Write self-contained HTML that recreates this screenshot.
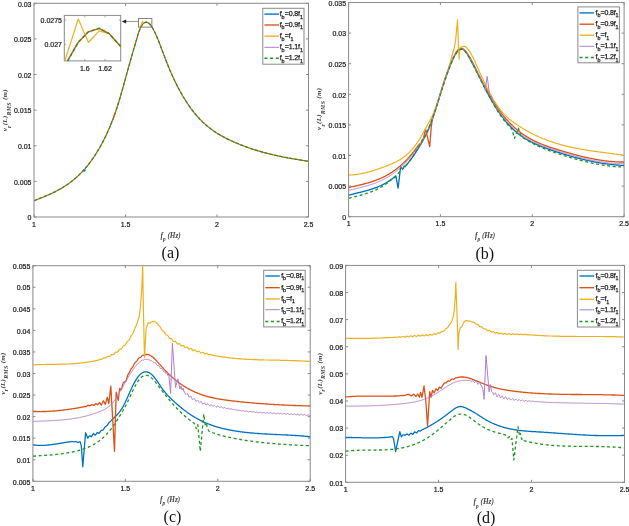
<!DOCTYPE html>
<html><head><meta charset="utf-8"><style>
html,body{margin:0;padding:0;background:#fff;}
svg{display:block;filter:blur(0.35px);}
.tk{font-family:"Liberation Sans",sans-serif;font-size:7px;fill:#1c1c1c;stroke:#1c1c1c;stroke-width:0.22px;}
.lg{font-family:"Liberation Sans",sans-serif;font-size:7px;fill:#1c1c1c;stroke:#1c1c1c;stroke-width:0.25px;letter-spacing:-0.12px;}
.sb{font-size:5.4px;}
.li{letter-spacing:-0.15px;}
.ax{font-family:"Liberation Serif",serif;font-size:7.3px;font-style:italic;font-weight:bold;fill:#444;}
.axs{font-size:5.3px;}
.ay{font-size:7.0px;letter-spacing:0.3px;} .ay .axs{font-size:5.9px;}
.pl{font-family:"Liberation Serif",serif;font-size:16px;fill:#111;}
</style></head><body>
<svg width="629" height="526" viewBox="0 0 629 526">
<defs>
<clipPath id="ca"><rect x="34" y="3.3" width="274.5" height="213.7"/></clipPath>
<clipPath id="cb"><rect x="348.6" y="2.5" width="275.5" height="214.2"/></clipPath>
<clipPath id="cc"><rect x="32.9" y="265.7" width="277.3" height="215.6"/></clipPath>
<clipPath id="cd"><rect x="345.6" y="265.4" width="278.9" height="216.9"/></clipPath>
</defs>
<rect x="34.0" y="3.3" width="274.50" height="213.70" fill="none" stroke="#8a8a8a" stroke-width="1"/>
<path d="M34.00 217V214.5M34.00 3.3V5.8" stroke="#8a8a8a" stroke-width="1"/>
<text x="34.00" y="226.70" text-anchor="middle" class="tk">1</text>
<path d="M125.50 217V214.5M125.50 3.3V5.8" stroke="#8a8a8a" stroke-width="1"/>
<text x="125.50" y="226.70" text-anchor="middle" class="tk">1.5</text>
<path d="M217.00 217V214.5M217.00 3.3V5.8" stroke="#8a8a8a" stroke-width="1"/>
<text x="217.00" y="226.70" text-anchor="middle" class="tk">2</text>
<path d="M308.50 217V214.5M308.50 3.3V5.8" stroke="#8a8a8a" stroke-width="1"/>
<text x="308.50" y="226.70" text-anchor="middle" class="tk">2.5</text>
<path d="M34.0 217.00H36.5M308.5 217.00H306.0" stroke="#8a8a8a" stroke-width="1"/>
<text x="31.50" y="220.20" text-anchor="end" class="tk">0</text>
<path d="M34.0 181.38H36.5M308.5 181.38H306.0" stroke="#8a8a8a" stroke-width="1"/>
<text x="31.50" y="184.58" text-anchor="end" class="tk">0.005</text>
<path d="M34.0 145.77H36.5M308.5 145.77H306.0" stroke="#8a8a8a" stroke-width="1"/>
<text x="31.50" y="148.97" text-anchor="end" class="tk">0.01</text>
<path d="M34.0 110.15H36.5M308.5 110.15H306.0" stroke="#8a8a8a" stroke-width="1"/>
<text x="31.50" y="113.35" text-anchor="end" class="tk">0.015</text>
<path d="M34.0 74.53H36.5M308.5 74.53H306.0" stroke="#8a8a8a" stroke-width="1"/>
<text x="31.50" y="77.73" text-anchor="end" class="tk">0.02</text>
<path d="M34.0 38.92H36.5M308.5 38.92H306.0" stroke="#8a8a8a" stroke-width="1"/>
<text x="31.50" y="42.12" text-anchor="end" class="tk">0.025</text>
<path d="M34.0 3.30H36.5M308.5 3.30H306.0" stroke="#8a8a8a" stroke-width="1"/>
<text x="31.50" y="6.50" text-anchor="end" class="tk">0.03</text>
<g clip-path="url(#ca)">
<polyline points="34.3,200.6 34.8,200.4 35.3,200.2 35.8,200.0 36.3,199.8 36.8,199.6 37.3,199.4 37.8,199.2 38.3,199.0 38.8,198.8 39.3,198.6 39.8,198.4 40.3,198.2 40.8,198.0 41.3,197.8 41.8,197.6 42.3,197.4 42.8,197.2 43.3,197.0 43.8,196.8 44.3,196.6 44.8,196.4 45.3,196.2 45.8,196.0 46.3,195.8 46.8,195.6 47.3,195.3 47.8,195.1 48.3,194.9 48.8,194.7 49.3,194.5 49.8,194.2 50.3,194.0 50.8,193.8 51.3,193.6 51.8,193.3 52.3,193.1 52.8,192.8 53.3,192.6 53.8,192.4 54.3,192.1 54.8,191.9 55.3,191.6 55.8,191.4 56.3,191.1 56.8,190.8 57.3,190.6 57.8,190.3 58.3,190.0 58.8,189.8 59.3,189.5 59.8,189.2 60.3,188.9 60.8,188.6 61.3,188.4 61.8,188.1 62.3,187.8 62.8,187.5 63.3,187.1 63.8,186.8 64.3,186.5 64.8,186.2 65.3,185.9 65.8,185.5 66.3,185.2 66.8,184.9 67.3,184.5 67.8,184.2 68.3,183.8 68.8,183.5 69.3,183.1 69.8,182.7 70.3,182.4 70.8,182.0 71.3,181.6 71.8,181.2 72.3,180.8 72.8,180.4 73.3,180.0 73.8,179.6 74.3,179.2 74.8,178.7 75.3,178.3 75.8,177.9 76.3,177.4 76.8,177.0 77.3,176.5 77.8,176.1 78.3,175.6 78.8,175.1 79.3,174.6 79.8,174.2 80.3,173.7 80.8,173.2 81.3,172.6 81.8,172.1 82.3,171.6 82.8,171.1 83.3,170.5 83.8,170.0 84.3,169.4 84.8,168.8 85.3,168.3 85.8,167.7 86.3,167.1 86.8,166.5 87.3,165.9 87.8,165.3 88.3,164.6 88.8,164.0 89.3,163.3 89.8,162.7 90.3,162.0 90.8,161.3 91.3,160.7 91.8,160.0 92.3,159.2 92.8,158.5 93.3,157.8 93.8,157.1 94.3,156.3 94.8,155.6 95.3,154.8 95.8,154.0 96.3,153.2 96.8,152.4 97.3,151.6 97.8,150.8 98.3,149.9 98.8,149.1 99.3,148.2 99.8,147.4 100.3,146.5 100.8,145.6 101.3,144.7 101.8,143.7 102.3,142.8 102.8,141.9 103.3,140.9 103.8,139.9 104.3,138.9 104.8,137.9 105.3,136.9 105.8,135.9 106.3,134.8 106.8,133.8 107.3,132.7 107.8,131.6 108.3,130.5 108.8,129.3 109.3,128.2 109.8,127.0 110.3,125.8 110.8,124.6 111.3,123.3 111.8,122.1 112.3,120.8 112.8,119.5 113.3,118.2 113.8,116.8 114.3,115.4 114.8,114.0 115.3,112.6 115.8,111.2 116.3,109.7 116.8,108.2 117.3,106.7 117.8,105.1 118.3,103.5 118.8,101.9 119.3,100.3 119.8,98.6 120.3,97.0 120.8,95.2 121.3,93.5 121.8,91.7 122.3,90.0 122.8,88.2 123.3,86.4 123.8,84.6 124.3,82.7 124.8,80.9 125.3,79.1 125.8,77.2 126.3,75.4 126.8,73.6 127.3,71.8 127.8,69.9 128.3,68.1 128.8,66.3 129.3,64.6 129.8,62.8 130.3,61.0 130.8,59.3 131.3,57.6 131.8,55.8 132.3,54.1 132.8,52.4 133.3,50.7 133.8,48.9 134.3,47.2 134.8,45.5 135.3,43.8 135.8,42.0 136.3,40.3 136.8,38.6 137.3,36.9 137.8,35.2 138.3,33.6 138.8,32.1 139.3,30.7 139.8,29.4 140.3,28.3 140.8,27.2 141.3,26.3 141.8,25.4 142.3,24.7 142.8,24.0 143.3,23.5 143.8,23.1 144.3,22.7 144.8,22.5 145.3,22.3 145.8,22.2 146.3,22.2 146.8,22.3 147.3,22.4 147.8,22.6 148.3,22.9 148.8,23.3 149.3,23.7 149.8,24.2 150.3,24.8 150.8,25.4 151.3,26.1 151.8,26.8 152.3,27.6 152.8,28.4 153.3,29.3 153.8,30.3 154.3,31.2 154.8,32.3 155.3,33.3 155.8,34.4 156.3,35.5 156.8,36.7 157.3,37.9 157.8,39.1 158.3,40.3 158.8,41.6 159.3,42.8 159.8,44.1 160.3,45.4 160.8,46.7 161.3,48.1 161.8,49.4 162.3,50.7 162.8,52.1 163.3,53.4 163.8,54.7 164.3,56.1 164.8,57.4 165.3,58.7 165.8,60.0 166.3,61.3 166.8,62.6 167.3,63.8 167.8,65.1 168.3,66.3 168.8,67.5 169.3,68.7 169.8,69.9 170.3,71.0 170.8,72.2 171.3,73.3 171.8,74.5 172.3,75.6 172.8,76.7 173.3,77.8 173.8,78.8 174.3,79.9 174.8,81.0 175.3,82.0 175.8,83.0 176.3,84.0 176.8,85.0 177.3,86.0 177.8,87.0 178.3,87.9 178.8,88.9 179.3,89.8 179.8,90.7 180.3,91.7 180.8,92.6 181.3,93.4 181.8,94.3 182.3,95.2 182.8,96.0 183.3,96.9 183.8,97.7 184.3,98.5 184.8,99.3 185.3,100.1 185.8,100.9 186.3,101.7 186.8,102.5 187.3,103.2 187.8,104.0 188.3,104.7 188.8,105.4 189.3,106.2 189.8,106.9 190.3,107.6 190.8,108.3 191.3,108.9 191.8,109.6 192.3,110.3 192.8,110.9 193.3,111.5 193.8,112.2 194.3,112.8 194.8,113.4 195.3,114.0 195.8,114.6 196.3,115.2 196.8,115.8 197.3,116.3 197.8,116.9 198.3,117.5 198.8,118.0 199.3,118.5 199.8,119.1 200.3,119.6 200.8,120.1 201.3,120.6 201.8,121.1 202.3,121.6 202.8,122.1 203.3,122.5 203.8,123.0 204.3,123.5 204.8,123.9 205.3,124.4 205.8,124.8 206.3,125.3 206.8,125.7 207.3,126.1 207.8,126.5 208.3,126.9 208.8,127.3 209.3,127.7 209.8,128.1 210.3,128.5 210.8,128.9 211.3,129.3 211.8,129.6 212.3,130.0 212.8,130.4 213.3,130.7 213.8,131.1 214.3,131.4 214.8,131.7 215.3,132.1 215.8,132.4 216.3,132.7 216.8,133.0 217.3,133.4 217.8,133.7 218.3,134.0 218.8,134.3 219.3,134.6 219.8,134.9 220.3,135.2 220.8,135.4 221.3,135.7 221.8,136.0 222.3,136.3 222.8,136.6 223.3,136.8 223.8,137.1 224.3,137.4 224.8,137.6 225.3,137.9 225.8,138.1 226.3,138.4 226.8,138.6 227.3,138.9 227.8,139.1 228.3,139.4 228.8,139.6 229.3,139.8 229.8,140.1 230.3,140.3 230.8,140.6 231.3,140.8 231.8,141.0 232.3,141.2 232.8,141.5 233.3,141.7 233.8,141.9 234.3,142.1 234.8,142.4 235.3,142.6 235.8,142.8 236.3,143.0 236.8,143.2 237.3,143.4 237.8,143.6 238.3,143.8 238.8,144.0 239.3,144.3 239.8,144.5 240.3,144.7 240.8,144.9 241.3,145.1 241.8,145.2 242.3,145.4 242.8,145.6 243.3,145.8 243.8,146.0 244.3,146.2 244.8,146.4 245.3,146.6 245.8,146.8 246.3,146.9 246.8,147.1 247.3,147.3 247.8,147.5 248.3,147.7 248.8,147.8 249.3,148.0 249.8,148.2 250.3,148.4 250.8,148.5 251.3,148.7 251.8,148.9 252.3,149.0 252.8,149.2 253.3,149.3 253.8,149.5 254.3,149.7 254.8,149.8 255.3,150.0 255.8,150.1 256.3,150.3 256.8,150.4 257.3,150.6 257.8,150.8 258.3,150.9 258.8,151.0 259.3,151.2 259.8,151.3 260.3,151.5 260.8,151.6 261.3,151.8 261.8,151.9 262.3,152.1 262.8,152.2 263.3,152.3 263.8,152.5 264.3,152.6 264.8,152.7 265.3,152.9 265.8,153.0 266.3,153.1 266.8,153.3 267.3,153.4 267.8,153.5 268.3,153.6 268.8,153.8 269.3,153.9 269.8,154.0 270.3,154.1 270.8,154.3 271.3,154.4 271.8,154.5 272.3,154.6 272.8,154.7 273.3,154.9 273.8,155.0 274.3,155.1 274.8,155.2 275.3,155.3 275.8,155.4 276.3,155.5 276.8,155.6 277.3,155.8 277.8,155.9 278.3,156.0 278.8,156.1 279.3,156.2 279.8,156.3 280.3,156.4 280.8,156.5 281.3,156.6 281.8,156.7 282.3,156.8 282.8,156.9 283.3,157.0 283.8,157.1 284.3,157.2 284.8,157.3 285.3,157.4 285.8,157.5 286.3,157.6 286.8,157.7 287.3,157.8 287.8,157.9 288.3,158.0 288.8,158.1 289.3,158.1 289.8,158.2 290.3,158.3 290.8,158.4 291.3,158.5 291.8,158.6 292.3,158.7 292.8,158.8 293.3,158.9 293.8,158.9 294.3,159.0 294.8,159.1 295.3,159.2 295.8,159.3 296.3,159.4 296.8,159.4 297.3,159.5 297.8,159.6 298.3,159.7 298.8,159.8 299.3,159.9 299.8,159.9 300.3,160.0 300.8,160.1 301.3,160.2 301.8,160.3 302.3,160.3 302.8,160.4 303.3,160.5 303.8,160.6 304.3,160.6 304.8,160.7 305.3,160.8 305.8,160.9 306.3,161.0 306.8,161.0 307.3,161.1 307.8,161.2 308.3,161.3 308.5,161.3" fill="none" stroke="#D95319" stroke-width="1.2" stroke-linejoin="round"/>
<polyline points="34.3,200.6 34.8,200.4 35.3,200.2 35.8,200.0 36.3,199.8 36.8,199.6 37.3,199.4 37.8,199.2 38.3,199.0 38.8,198.8 39.3,198.6 39.8,198.4 40.3,198.2 40.8,198.0 41.3,197.8 41.8,197.6 42.3,197.4 42.8,197.2 43.3,197.0 43.8,196.8 44.3,196.6 44.8,196.4 45.3,196.2 45.8,196.0 46.3,195.8 46.8,195.6 47.3,195.3 47.8,195.1 48.3,194.9 48.8,194.7 49.3,194.5 49.8,194.2 50.3,194.0 50.8,193.8 51.3,193.6 51.8,193.3 52.3,193.1 52.8,192.8 53.3,192.6 53.8,192.4 54.3,192.1 54.8,191.9 55.3,191.6 55.8,191.4 56.3,191.1 56.8,190.8 57.3,190.6 57.8,190.3 58.3,190.0 58.8,189.8 59.3,189.5 59.8,189.2 60.3,188.9 60.8,188.6 61.3,188.4 61.8,188.1 62.3,187.8 62.8,187.5 63.3,187.1 63.8,186.8 64.3,186.5 64.8,186.2 65.3,185.9 65.8,185.5 66.3,185.2 66.8,184.9 67.3,184.5 67.8,184.2 68.3,183.8 68.8,183.5 69.3,183.1 69.8,182.7 70.3,182.4 70.8,182.0 71.3,181.6 71.8,181.2 72.3,180.8 72.8,180.4 73.3,180.0 73.8,179.6 74.3,179.2 74.8,178.7 75.3,178.3 75.8,177.9 76.3,177.4 76.8,177.0 77.3,176.5 77.8,176.1 78.3,175.6 78.8,175.1 79.3,174.6 79.8,174.2 80.3,173.7 80.8,173.2 81.3,172.6 81.8,172.1 82.3,171.6 82.8,171.1 83.3,170.5 83.8,170.0 84.3,169.4 84.8,168.8 85.3,168.3 85.8,167.7 86.3,167.1 86.8,166.5 87.3,165.9 87.8,165.3 88.3,164.6 88.8,164.0 89.3,163.3 89.8,162.7 90.3,162.0 90.8,161.3 91.3,160.7 91.8,160.0 92.3,159.2 92.8,158.5 93.3,157.8 93.8,157.1 94.3,156.3 94.8,155.6 95.3,154.8 95.8,154.0 96.3,153.2 96.8,152.4 97.3,151.6 97.8,150.8 98.3,149.9 98.8,149.1 99.3,148.2 99.8,147.4 100.3,146.5 100.8,145.6 101.3,144.7 101.8,143.7 102.3,142.8 102.8,141.9 103.3,140.9 103.8,139.9 104.3,138.9 104.8,137.9 105.3,136.9 105.8,135.9 106.3,134.8 106.8,133.8 107.3,132.7 107.8,131.6 108.3,130.5 108.8,129.3 109.3,128.2 109.8,127.0 110.3,125.8 110.8,124.6 111.3,123.3 111.8,122.1 112.3,120.8 112.8,119.5 113.3,118.2 113.8,116.8 114.3,115.4 114.8,114.0 115.3,112.6 115.8,111.2 116.3,109.7 116.8,108.2 117.3,106.7 117.8,105.1 118.3,103.5 118.8,101.9 119.3,100.3 119.8,98.6 120.3,97.0 120.8,95.2 121.3,93.5 121.8,91.7 122.3,90.0 122.8,88.2 123.3,86.4 123.8,84.6 124.3,82.7 124.8,80.9 125.3,79.1 125.8,77.2 126.3,75.4 126.8,73.6 127.3,71.8 127.8,69.9 128.3,68.1 128.8,66.3 129.3,64.6 129.8,62.8 130.3,61.0 130.8,59.3 131.3,57.6 131.8,55.8 132.3,54.1 132.8,52.4 133.3,50.7 133.8,48.9 134.3,47.2 134.8,45.5 135.3,43.8 135.8,42.0 136.3,40.3 136.8,38.6 137.3,36.9 137.8,35.2 138.3,33.6 138.8,32.1 139.3,30.7 139.8,29.4 140.3,28.3 140.8,27.2 141.3,26.3 141.8,25.4 142.3,24.7 142.8,24.0 143.3,23.5 143.8,23.1 144.3,22.7 144.8,22.5 145.3,22.3 145.8,22.2 146.3,22.2 146.8,22.3 147.3,22.4 147.8,22.6 148.3,22.9 148.8,23.3 149.3,23.7 149.8,24.2 150.3,24.8 150.8,25.4 151.3,26.1 151.8,26.8 152.3,27.6 152.8,28.4 153.3,29.3 153.8,30.3 154.3,31.2 154.8,32.3 155.3,33.3 155.8,34.4 156.3,35.5 156.8,36.7 157.3,37.9 157.8,39.1 158.3,40.3 158.8,41.6 159.3,42.8 159.8,44.1 160.3,45.4 160.8,46.7 161.3,48.1 161.8,49.4 162.3,50.7 162.8,52.1 163.3,53.4 163.8,54.7 164.3,56.1 164.8,57.4 165.3,58.7 165.8,60.0 166.3,61.3 166.8,62.6 167.3,63.8 167.8,65.1 168.3,66.3 168.8,67.5 169.3,68.7 169.8,69.9 170.3,71.0 170.8,72.2 171.3,73.3 171.8,74.5 172.3,75.6 172.8,76.7 173.3,77.8 173.8,78.8 174.3,79.9 174.8,81.0 175.3,82.0 175.8,83.0 176.3,84.0 176.8,85.0 177.3,86.0 177.8,87.0 178.3,87.9 178.8,88.9 179.3,89.8 179.8,90.7 180.3,91.7 180.8,92.6 181.3,93.4 181.8,94.3 182.3,95.2 182.8,96.0 183.3,96.9 183.8,97.7 184.3,98.5 184.8,99.3 185.3,100.1 185.8,100.9 186.3,101.7 186.8,102.5 187.3,103.2 187.8,104.0 188.3,104.7 188.8,105.4 189.3,106.2 189.8,106.9 190.3,107.6 190.8,108.3 191.3,108.9 191.8,109.6 192.3,110.3 192.8,110.9 193.3,111.5 193.8,112.2 194.3,112.8 194.8,113.4 195.3,114.0 195.8,114.6 196.3,115.2 196.8,115.8 197.3,116.3 197.8,116.9 198.3,117.5 198.8,118.0 199.3,118.5 199.8,119.1 200.3,119.6 200.8,120.1 201.3,120.6 201.8,121.1 202.3,121.6 202.8,122.1 203.3,122.5 203.8,123.0 204.3,123.5 204.8,123.9 205.3,124.4 205.8,124.8 206.3,125.3 206.8,125.7 207.3,126.1 207.8,126.5 208.3,126.9 208.8,127.3 209.3,127.7 209.8,128.1 210.3,128.5 210.8,128.9 211.3,129.3 211.8,129.6 212.3,130.0 212.8,130.4 213.3,130.7 213.8,131.1 214.3,131.4 214.8,131.7 215.3,132.1 215.8,132.4 216.3,132.7 216.8,133.0 217.3,133.4 217.8,133.7 218.3,134.0 218.8,134.3 219.3,134.6 219.8,134.9 220.3,135.2 220.8,135.4 221.3,135.7 221.8,136.0 222.3,136.3 222.8,136.6 223.3,136.8 223.8,137.1 224.3,137.4 224.8,137.6 225.3,137.9 225.8,138.1 226.3,138.4 226.8,138.6 227.3,138.9 227.8,139.1 228.3,139.4 228.8,139.6 229.3,139.8 229.8,140.1 230.3,140.3 230.8,140.6 231.3,140.8 231.8,141.0 232.3,141.2 232.8,141.5 233.3,141.7 233.8,141.9 234.3,142.1 234.8,142.4 235.3,142.6 235.8,142.8 236.3,143.0 236.8,143.2 237.3,143.4 237.8,143.6 238.3,143.8 238.8,144.0 239.3,144.3 239.8,144.5 240.3,144.7 240.8,144.9 241.3,145.1 241.8,145.2 242.3,145.4 242.8,145.6 243.3,145.8 243.8,146.0 244.3,146.2 244.8,146.4 245.3,146.6 245.8,146.8 246.3,146.9 246.8,147.1 247.3,147.3 247.8,147.5 248.3,147.7 248.8,147.8 249.3,148.0 249.8,148.2 250.3,148.4 250.8,148.5 251.3,148.7 251.8,148.9 252.3,149.0 252.8,149.2 253.3,149.3 253.8,149.5 254.3,149.7 254.8,149.8 255.3,150.0 255.8,150.1 256.3,150.3 256.8,150.4 257.3,150.6 257.8,150.8 258.3,150.9 258.8,151.0 259.3,151.2 259.8,151.3 260.3,151.5 260.8,151.6 261.3,151.8 261.8,151.9 262.3,152.1 262.8,152.2 263.3,152.3 263.8,152.5 264.3,152.6 264.8,152.7 265.3,152.9 265.8,153.0 266.3,153.1 266.8,153.3 267.3,153.4 267.8,153.5 268.3,153.6 268.8,153.8 269.3,153.9 269.8,154.0 270.3,154.1 270.8,154.3 271.3,154.4 271.8,154.5 272.3,154.6 272.8,154.7 273.3,154.9 273.8,155.0 274.3,155.1 274.8,155.2 275.3,155.3 275.8,155.4 276.3,155.5 276.8,155.6 277.3,155.8 277.8,155.9 278.3,156.0 278.8,156.1 279.3,156.2 279.8,156.3 280.3,156.4 280.8,156.5 281.3,156.6 281.8,156.7 282.3,156.8 282.8,156.9 283.3,157.0 283.8,157.1 284.3,157.2 284.8,157.3 285.3,157.4 285.8,157.5 286.3,157.6 286.8,157.7 287.3,157.8 287.8,157.9 288.3,158.0 288.8,158.1 289.3,158.1 289.8,158.2 290.3,158.3 290.8,158.4 291.3,158.5 291.8,158.6 292.3,158.7 292.8,158.8 293.3,158.9 293.8,158.9 294.3,159.0 294.8,159.1 295.3,159.2 295.8,159.3 296.3,159.4 296.8,159.4 297.3,159.5 297.8,159.6 298.3,159.7 298.8,159.8 299.3,159.9 299.8,159.9 300.3,160.0 300.8,160.1 301.3,160.2 301.8,160.3 302.3,160.3 302.8,160.4 303.3,160.5 303.8,160.6 304.3,160.6 304.8,160.7 305.3,160.8 305.8,160.9 306.3,161.0 306.8,161.0 307.3,161.1 307.8,161.2 308.3,161.3 308.5,161.3" fill="none" stroke="#1E961E" stroke-width="1.2" stroke-linejoin="round" stroke-dasharray="3.2,1.9"/>
<polyline points="140.6,26.2 142.4,21.4 143.6,22.6" fill="none" stroke="#EDB120" stroke-width="1.1"/>
</g>
<rect x="138.5" y="18.6" width="13.4" height="8.5" fill="none" stroke="#666" stroke-width="0.8"/>
<line x1="138.5" y1="21.5" x2="124.5" y2="21.5" stroke="#555" stroke-width="0.6"/>
<polygon points="121.7,21.5 126.2,19.6 126.2,23.4" fill="#222"/>
<rect x="64.3" y="15.4" width="56.4" height="45.5" fill="#fff" stroke="#8a8a8a" stroke-width="1"/>
<polyline points="64.8,60.9 78.3,19 88.4,42.5 99.1,30.8 109.1,33.6 120.7,46.5" fill="none" stroke="#EDB120" stroke-width="1.2" stroke-linejoin="round"/>
<polyline points="67.6,60.9 78.3,42.2 88.4,31.8 99.1,28.3 109.1,33.6 120.7,46.5" fill="none" stroke="#D95319" stroke-width="1.4" stroke-linejoin="round"/>
<polyline points="67.6,60.9 78.3,42.2 88.4,31.8 99.1,28.3 109.1,33.6 120.7,46.5" fill="none" stroke="#1E961E" stroke-width="1.4" stroke-dasharray="3,2.6"/>
<path d="M84.8 60.9V59M105.1 60.9V59M84.8 15.4V17.3M105.1 15.4V17.3M64.3 20H66.2M64.3 44.3H66.2M120.7 20H118.8M120.7 44.3H118.8" stroke="#8a8a8a" stroke-width="0.8"/>
<path d="M82.6 170.4L84.6 170.9L85.6 169.6" fill="none" stroke="#0072BD" stroke-width="1.1"/>
<path d="M113.6 117.6L114.2 115.0L115.3 113.4" fill="none" stroke="#D95319" stroke-width="1.1"/>
<text x="62" y="22.6" text-anchor="end" class="tk">0.0275</text>
<text x="62" y="46.9" text-anchor="end" class="tk">0.027</text>
<text x="84.8" y="70.9" text-anchor="middle" class="tk">1.6</text>
<text x="105.1" y="70.9" text-anchor="middle" class="tk">1.62</text>
<rect x="262.8" y="8.3" width="41.20" height="55.90" fill="#fff" stroke="#8a8a8a" stroke-width="1"/>
<line x1="264.4" y1="14.1" x2="279.1" y2="14.1" stroke="#0072BD" stroke-width="1.35"/>
<text x="279.7" y="15.9" class="lg">f<tspan dy="2.6" class="sb">b</tspan><tspan dy="-2.6" dx="0.3">=0.8f</tspan><tspan dy="2.6" class="sb">1</tspan></text>
<line x1="264.4" y1="25" x2="279.1" y2="25" stroke="#D95319" stroke-width="1.35"/>
<text x="279.7" y="26.8" class="lg">f<tspan dy="2.6" class="sb">b</tspan><tspan dy="-2.6" dx="0.3">=0.9f</tspan><tspan dy="2.6" class="sb">1</tspan></text>
<line x1="264.4" y1="36.2" x2="279.1" y2="36.2" stroke="#EDB120" stroke-width="1.35"/>
<text x="279.7" y="38.0" class="lg">f<tspan dy="2.6" class="sb">b</tspan><tspan dy="-2.6" dx="0.3">=f</tspan><tspan dy="2.6" class="sb">1</tspan></text>
<line x1="264.4" y1="47.3" x2="279.1" y2="47.3" stroke="#B27DC9" stroke-width="1.0"/>
<text x="279.7" y="49.1" class="lg">f<tspan dy="2.6" class="sb">b</tspan><tspan dy="-2.6" dx="0.3">=1.1f</tspan><tspan dy="2.6" class="sb">1</tspan></text>
<line x1="264.4" y1="58.2" x2="279.1" y2="58.2" stroke="#1E961E" stroke-width="1.5" stroke-dasharray="3,2.7"/>
<text x="279.7" y="60.0" class="lg">f<tspan dy="2.6" class="sb">b</tspan><tspan dy="-2.6" dx="0.3">=1.2f</tspan><tspan dy="2.6" class="sb">1</tspan></text>
<rect x="348.6" y="2.5" width="275.50" height="214.20" fill="none" stroke="#8a8a8a" stroke-width="1"/>
<path d="M348.60 216.7V214.2M348.60 2.5V5.0" stroke="#8a8a8a" stroke-width="1"/>
<text x="348.60" y="226.40" text-anchor="middle" class="tk">1</text>
<path d="M440.43 216.7V214.2M440.43 2.5V5.0" stroke="#8a8a8a" stroke-width="1"/>
<text x="440.43" y="226.40" text-anchor="middle" class="tk">1.5</text>
<path d="M532.27 216.7V214.2M532.27 2.5V5.0" stroke="#8a8a8a" stroke-width="1"/>
<text x="532.27" y="226.40" text-anchor="middle" class="tk">2</text>
<path d="M624.10 216.7V214.2M624.10 2.5V5.0" stroke="#8a8a8a" stroke-width="1"/>
<text x="624.10" y="226.40" text-anchor="middle" class="tk">2.5</text>
<path d="M348.6 216.70H351.1M624.1 216.70H621.6" stroke="#8a8a8a" stroke-width="1"/>
<text x="346.10" y="219.90" text-anchor="end" class="tk">0</text>
<path d="M348.6 186.10H351.1M624.1 186.10H621.6" stroke="#8a8a8a" stroke-width="1"/>
<text x="346.10" y="189.30" text-anchor="end" class="tk">0.005</text>
<path d="M348.6 155.50H351.1M624.1 155.50H621.6" stroke="#8a8a8a" stroke-width="1"/>
<text x="346.10" y="158.70" text-anchor="end" class="tk">0.01</text>
<path d="M348.6 124.90H351.1M624.1 124.90H621.6" stroke="#8a8a8a" stroke-width="1"/>
<text x="346.10" y="128.10" text-anchor="end" class="tk">0.015</text>
<path d="M348.6 94.30H351.1M624.1 94.30H621.6" stroke="#8a8a8a" stroke-width="1"/>
<text x="346.10" y="97.50" text-anchor="end" class="tk">0.02</text>
<path d="M348.6 63.70H351.1M624.1 63.70H621.6" stroke="#8a8a8a" stroke-width="1"/>
<text x="346.10" y="66.90" text-anchor="end" class="tk">0.025</text>
<path d="M348.6 33.10H351.1M624.1 33.10H621.6" stroke="#8a8a8a" stroke-width="1"/>
<text x="346.10" y="36.30" text-anchor="end" class="tk">0.03</text>
<path d="M348.6 2.50H351.1M624.1 2.50H621.6" stroke="#8a8a8a" stroke-width="1"/>
<text x="346.10" y="5.70" text-anchor="end" class="tk">0.035</text>
<g clip-path="url(#cb)">
<polyline points="348.8,195.2 349.3,195.1 349.8,194.9 350.3,194.8 350.8,194.7 351.3,194.5 351.8,194.4 352.3,194.3 352.8,194.1 353.3,194.0 353.8,193.9 354.3,193.7 354.8,193.6 355.3,193.5 355.8,193.4 356.3,193.2 356.8,193.1 357.3,193.0 357.8,192.9 358.3,192.7 358.8,192.6 359.3,192.5 359.8,192.4 360.3,192.3 360.8,192.1 361.3,192.0 361.8,191.9 362.3,191.8 362.8,191.6 363.3,191.5 363.8,191.4 364.3,191.2 364.8,191.1 365.3,191.0 365.8,190.8 366.3,190.7 366.8,190.6 367.3,190.4 367.8,190.3 368.3,190.1 368.8,190.0 369.3,189.9 369.8,189.7 370.3,189.5 370.8,189.4 371.3,189.2 371.8,189.1 372.3,188.9 372.8,188.7 373.3,188.6 373.8,188.4 374.3,188.2 374.8,188.0 375.3,187.9 375.8,187.7 376.3,187.5 376.8,187.3 377.3,187.1 377.8,186.9 378.3,186.7 378.8,186.5 379.3,186.2 379.8,186.0 380.3,185.8 380.8,185.6 381.3,185.3 381.8,185.1 382.3,184.8 382.8,184.6 383.3,184.3 383.8,184.1 384.3,183.8 384.8,183.5 385.3,183.2 385.8,183.0 386.3,182.7 386.8,182.4 387.3,182.1 387.8,181.8 388.3,181.4 388.8,181.1 389.3,180.8 389.8,180.4 390.3,180.1 390.8,179.7 391.3,179.4 391.8,179.0 392.3,178.7 392.8,178.3 393.3,177.9 393.5,177.7 394.3,177.8 395.9,176.2 398.1,188.1 400.6,167.0 402.6,169.0 404.3,166.0 405.0,166.7 405.3,166.3 405.8,165.8 406.3,165.2 406.8,164.6 407.3,164.0 407.8,163.4 408.3,162.7 408.8,162.1 409.3,161.5 409.8,160.8 410.3,160.1 410.8,159.5 411.3,158.8 411.8,158.1 412.3,157.4 412.8,156.7 413.3,156.0 413.8,155.3 414.3,154.5 414.8,153.8 415.3,153.1 415.8,152.3 416.3,151.5 416.8,150.7 417.3,150.0 417.8,149.2 418.3,148.4 418.8,147.5 419.3,146.7 419.8,145.9 420.3,145.0 420.8,144.2 421.3,143.3 421.8,142.4 422.3,141.6 422.8,140.7 423.3,139.8 423.8,138.8 424.3,137.9 424.8,137.0 425.3,136.0 425.8,135.1 426.3,134.1 426.8,133.1 427.3,132.0 427.8,130.9 428.3,129.9 428.8,128.7 429.3,127.5 429.8,126.3 430.3,125.0 430.8,123.7 431.3,122.4 431.8,121.0 432.3,119.5 432.8,118.1 433.3,116.6 433.8,115.1 434.3,113.5 434.8,111.9 435.3,110.4 435.8,108.7 436.3,107.1 436.8,105.5 437.3,103.9 437.8,102.2 438.3,100.6 438.8,99.0 439.3,97.4 439.8,95.7 440.3,94.1 440.8,92.6 441.3,91.0 441.8,89.4 442.3,87.9 442.8,86.4 443.3,84.9 443.8,83.4 444.3,81.9 444.8,80.4 445.3,79.0 445.8,77.6 446.3,76.2 446.8,74.7 447.3,73.4 447.8,72.0 448.3,70.6 448.8,69.3 449.3,67.9 449.8,66.6 450.3,65.3 450.8,64.1 451.3,62.9 451.8,61.7 452.3,60.5 452.8,59.4 453.3,58.3 453.8,57.2 454.3,56.3 454.8,55.3 455.3,54.4 455.8,53.6 456.3,52.8 456.8,52.1 457.3,51.4 457.8,50.9 458.3,50.3 458.8,49.9 459.3,49.5 459.8,49.2 460.3,49.0 460.8,48.9 461.3,48.9 461.8,48.9 462.3,49.1 462.8,49.3 463.3,49.6 463.8,49.9 464.3,50.4 464.8,50.9 465.3,51.4 465.8,52.0 466.3,52.7 466.8,53.4 467.3,54.2 467.8,55.0 468.3,55.8 468.8,56.7 469.3,57.6 469.8,58.5 470.3,59.4 470.8,60.3 471.3,61.3 471.8,62.2 472.3,63.2 472.8,64.1 473.3,65.1 473.8,66.0 474.3,67.0 474.8,67.9 475.3,68.8 475.8,69.8 476.3,70.7 476.8,71.7 477.3,72.7 477.8,73.6 478.3,74.6 478.8,75.6 479.3,76.6 479.8,77.6 480.3,78.6 480.8,79.7 481.3,80.7 481.8,81.7 482.3,82.7 482.8,83.7 483.3,84.7 483.8,85.7 484.3,86.7 484.8,87.7 485.3,88.7 485.8,89.7 486.3,90.7 486.8,91.6 487.3,92.6 487.8,93.5 488.3,94.5 488.8,95.4 489.3,96.3 489.8,97.2 490.3,98.1 490.8,99.0 491.3,99.8 491.8,100.7 492.3,101.6 492.8,102.4 493.3,103.2 493.8,104.1 494.3,104.9 494.8,105.7 495.3,106.5 495.8,107.3 496.3,108.1 496.8,108.9 497.3,109.6 497.8,110.4 498.3,111.1 498.8,111.9 499.3,112.6 499.8,113.3 500.3,114.0 500.8,114.7 501.3,115.4 501.8,116.1 502.3,116.8 502.8,117.4 503.3,118.1 503.8,118.7 504.3,119.4 504.8,120.0 505.3,120.6 505.8,121.3 506.3,121.9 506.8,122.5 507.3,123.0 507.8,123.6 508.3,124.2 508.8,124.8 509.3,125.3 509.8,125.8 510.3,126.4 510.8,126.9 511.3,127.4 511.8,127.9 512.3,128.4 512.8,128.9 513.3,129.4 513.8,129.9 514.3,130.4 514.8,130.8 515.3,131.3 515.8,131.7 516.3,132.1 516.8,132.6 517.3,133.0 517.8,133.4 518.3,133.8 518.8,134.2 519.3,134.6 519.8,134.9 520.3,135.3 520.8,135.7 521.3,136.0 521.8,136.4 522.3,136.7 522.8,137.1 523.3,137.4 523.8,137.7 524.3,138.0 524.8,138.3 525.3,138.7 525.8,139.0 526.3,139.2 526.8,139.5 527.3,139.8 527.8,140.1 528.3,140.4 528.8,140.7 529.3,140.9 529.8,141.2 530.3,141.4 530.8,141.7 531.3,142.0 531.8,142.2 532.3,142.4 532.8,142.7 533.3,142.9 533.8,143.2 534.3,143.4 534.8,143.6 535.3,143.8 535.8,144.1 536.3,144.3 536.8,144.5 537.3,144.7 537.8,144.9 538.3,145.2 538.8,145.4 539.3,145.6 539.8,145.8 540.3,146.0 540.8,146.2 541.3,146.4 541.8,146.6 542.3,146.8 542.8,147.0 543.3,147.2 543.8,147.4 544.3,147.6 544.8,147.8 545.3,147.9 545.8,148.1 546.3,148.3 546.8,148.5 547.3,148.7 547.8,148.9 548.3,149.0 548.8,149.2 549.3,149.4 549.8,149.6 550.3,149.7 550.8,149.9 551.3,150.1 551.8,150.3 552.3,150.4 552.8,150.6 553.3,150.8 553.8,150.9 554.3,151.1 554.8,151.3 555.3,151.4 555.8,151.6 556.3,151.8 556.8,151.9 557.3,152.1 557.8,152.2 558.3,152.4 558.8,152.6 559.3,152.7 559.8,152.9 560.3,153.0 560.8,153.2 561.3,153.4 561.8,153.5 562.3,153.7 562.8,153.8 563.3,154.0 563.8,154.1 564.3,154.3 564.8,154.4 565.3,154.6 565.8,154.7 566.3,154.9 566.8,155.0 567.3,155.2 567.8,155.3 568.3,155.5 568.8,155.6 569.3,155.8 569.8,155.9 570.3,156.1 570.8,156.2 571.3,156.3 571.8,156.5 572.3,156.6 572.8,156.8 573.3,156.9 573.8,157.0 574.3,157.2 574.8,157.3 575.3,157.4 575.8,157.6 576.3,157.7 576.8,157.8 577.3,158.0 577.8,158.1 578.3,158.2 578.8,158.4 579.3,158.5 579.8,158.6 580.3,158.7 580.8,158.9 581.3,159.0 581.8,159.1 582.3,159.2 582.8,159.3 583.3,159.5 583.8,159.6 584.3,159.7 584.8,159.8 585.3,159.9 585.8,160.1 586.3,160.2 586.8,160.3 587.3,160.4 587.8,160.5 588.3,160.6 588.8,160.7 589.3,160.8 589.8,160.9 590.3,161.0 590.8,161.1 591.3,161.3 591.8,161.4 592.3,161.5 592.8,161.6 593.3,161.7 593.8,161.8 594.3,161.9 594.8,162.0 595.3,162.0 595.8,162.1 596.3,162.2 596.8,162.3 597.3,162.4 597.8,162.5 598.3,162.6 598.8,162.7 599.3,162.8 599.8,162.9 600.3,162.9 600.8,163.0 601.3,163.1 601.8,163.2 602.3,163.3 602.8,163.3 603.3,163.4 603.8,163.5 604.3,163.6 604.8,163.6 605.3,163.7 605.8,163.8 606.3,163.8 606.8,163.9 607.3,164.0 607.8,164.0 608.3,164.1 608.8,164.2 609.3,164.2 609.8,164.3 610.3,164.4 610.8,164.4 611.3,164.5 611.8,164.5 612.3,164.6 612.8,164.6 613.3,164.7 613.8,164.7 614.3,164.8 614.8,164.8 615.3,164.9 615.8,164.9 616.3,165.0 616.8,165.0 617.3,165.0 617.8,165.1 618.3,165.1 618.8,165.2 619.3,165.2 619.8,165.2 620.3,165.3 620.8,165.3 621.3,165.3 621.8,165.4 622.3,165.4 622.8,165.4 623.3,165.4 623.8,165.5 624.1,165.5" fill="none" stroke="#0072BD" stroke-width="1.3" stroke-linejoin="round"/>
<polyline points="348.8,187.5 349.3,187.4 349.8,187.3 350.3,187.2 350.8,187.0 351.3,186.9 351.8,186.8 352.3,186.7 352.8,186.6 353.3,186.5 353.8,186.4 354.3,186.3 354.8,186.1 355.3,186.0 355.8,185.9 356.3,185.8 356.8,185.7 357.3,185.6 357.8,185.5 358.3,185.3 358.8,185.2 359.3,185.1 359.8,185.0 360.3,184.9 360.8,184.7 361.3,184.6 361.8,184.5 362.3,184.4 362.8,184.3 363.3,184.1 363.8,184.0 364.3,183.9 364.8,183.7 365.3,183.6 365.8,183.5 366.3,183.3 366.8,183.2 367.3,183.1 367.8,182.9 368.3,182.8 368.8,182.6 369.3,182.5 369.8,182.3 370.3,182.2 370.8,182.0 371.3,181.9 371.8,181.7 372.3,181.5 372.8,181.4 373.3,181.2 373.8,181.0 374.3,180.9 374.8,180.7 375.3,180.5 375.8,180.3 376.3,180.1 376.8,179.9 377.3,179.7 377.8,179.5 378.3,179.3 378.8,179.1 379.3,178.9 379.8,178.7 380.3,178.5 380.8,178.3 381.3,178.0 381.8,177.8 382.3,177.6 382.8,177.4 383.3,177.1 383.8,176.9 384.3,176.6 384.8,176.4 385.3,176.1 385.8,175.8 386.3,175.6 386.8,175.3 387.3,175.0 387.8,174.7 388.3,174.5 388.8,174.2 389.3,173.9 389.8,173.6 390.3,173.2 390.8,172.9 391.3,172.6 391.8,172.3 392.3,172.0 392.8,171.6 393.3,171.3 393.8,170.9 394.3,170.6 394.8,170.2 395.3,169.9 395.8,169.5 396.3,169.1 396.8,168.7 397.3,168.3 397.8,167.9 398.3,167.5 398.8,167.1 399.3,166.7 399.8,166.3 400.3,165.9 400.8,165.4 401.3,165.0 401.8,164.5 402.3,164.1 402.8,163.6 403.3,163.1 403.8,162.7 404.3,162.2 404.8,161.7 405.3,161.2 405.8,160.7 406.3,160.2 406.8,159.6 407.3,159.1 407.8,158.6 408.3,158.0 408.8,157.5 409.3,156.9 409.8,156.3 410.3,155.8 410.8,155.2 411.3,154.6 411.8,154.0 412.3,153.4 412.8,152.7 413.3,152.1 413.8,151.5 414.3,150.8 414.8,150.2 415.3,149.5 415.8,148.8 416.3,148.2 416.8,147.5 417.3,146.8 417.8,146.0 418.3,145.3 418.8,144.6 419.0,144.3 420.2,143.6 421.0,144.2 422.3,139.5 423.3,139.2 425.5,128.8 429.7,146.7 431.2,127.5 432.5,118.0 432.8,117.2 433.3,115.9 433.8,114.5 434.3,113.1 434.8,111.6 435.3,110.1 435.8,108.6 436.3,107.0 436.8,105.4 437.3,103.8 437.8,102.2 438.3,100.5 438.8,98.8 439.3,97.1 439.8,95.4 440.3,93.7 440.8,92.0 441.3,90.3 441.8,88.6 442.3,87.0 442.8,85.3 443.3,83.7 443.8,82.1 444.3,80.6 444.8,79.0 445.3,77.6 445.8,76.1 446.3,74.7 446.8,73.4 447.3,72.0 447.8,70.7 448.3,69.4 448.8,68.2 449.3,66.9 449.8,65.7 450.3,64.5 450.8,63.4 451.3,62.2 451.8,61.1 452.3,59.9 452.8,58.8 453.3,57.7 453.8,56.7 454.3,55.7 454.8,54.7 455.3,53.8 455.8,52.9 456.3,52.1 456.8,51.3 457.3,50.6 457.8,50.0 458.3,49.5 458.8,49.1 459.3,48.8 459.8,48.5 460.3,48.4 460.8,48.3 461.3,48.3 461.8,48.4 462.3,48.6 462.8,48.8 463.3,49.1 463.8,49.5 464.3,49.9 464.8,50.4 465.3,50.9 465.8,51.5 466.3,52.1 466.8,52.8 467.3,53.5 467.8,54.2 468.3,55.0 468.8,55.8 469.3,56.6 469.8,57.4 470.3,58.3 470.8,59.2 471.3,60.1 471.8,61.0 472.3,61.9 472.8,62.9 473.3,63.8 473.8,64.8 474.3,65.8 474.8,66.8 475.3,67.8 475.8,68.8 476.3,69.8 476.8,70.8 477.3,71.8 477.8,72.8 478.3,73.7 478.8,74.7 479.3,75.7 479.8,76.7 480.3,77.7 480.8,78.6 481.3,79.6 481.8,80.6 482.3,81.5 482.8,82.5 483.3,83.4 483.8,84.4 484.3,85.3 484.8,86.2 485.3,87.2 485.8,88.1 486.3,89.0 486.8,89.9 487.3,90.8 487.8,91.7 488.3,92.6 488.8,93.5 489.3,94.4 489.8,95.2 490.3,96.1 490.8,96.9 491.3,97.8 491.8,98.6 492.3,99.5 492.8,100.3 493.3,101.1 493.8,101.9 494.3,102.7 494.8,103.5 495.3,104.3 495.8,105.1 496.3,105.8 496.8,106.6 497.3,107.3 497.8,108.1 498.3,108.8 498.8,109.5 499.3,110.2 499.8,110.9 500.3,111.6 500.8,112.3 501.3,113.0 501.8,113.6 502.3,114.3 502.8,114.9 503.3,115.6 503.8,116.2 504.3,116.8 504.8,117.4 505.3,118.0 505.8,118.6 506.3,119.2 506.8,119.7 507.3,120.3 507.8,120.8 508.3,121.4 508.8,121.9 509.3,122.4 509.8,123.0 510.3,123.5 510.8,124.0 511.3,124.5 511.8,125.0 512.3,125.5 512.8,125.9 513.3,126.4 513.8,126.9 514.3,127.3 514.8,127.8 515.3,128.2 515.8,128.6 516.3,129.1 516.8,129.5 517.3,129.9 517.8,130.3 518.3,130.7 518.8,131.1 519.3,131.5 519.8,131.9 520.3,132.3 520.8,132.7 521.3,133.0 521.8,133.4 522.3,133.7 522.8,134.1 523.3,134.4 523.8,134.8 524.3,135.1 524.8,135.5 525.3,135.8 525.8,136.1 526.3,136.4 526.8,136.7 527.3,137.0 527.8,137.3 528.3,137.6 528.8,137.9 529.3,138.2 529.8,138.5 530.3,138.8 530.8,139.1 531.3,139.3 531.8,139.6 532.3,139.9 532.8,140.1 533.3,140.4 533.8,140.6 534.3,140.9 534.8,141.1 535.3,141.4 535.8,141.6 536.3,141.8 536.8,142.1 537.3,142.3 537.8,142.5 538.3,142.7 538.8,143.0 539.3,143.2 539.8,143.4 540.3,143.6 540.8,143.8 541.3,144.0 541.8,144.2 542.3,144.4 542.8,144.6 543.3,144.8 543.8,145.0 544.3,145.2 544.8,145.4 545.3,145.6 545.8,145.7 546.3,145.9 546.8,146.1 547.3,146.3 547.8,146.4 548.3,146.6 548.8,146.8 549.3,147.0 549.8,147.1 550.3,147.3 550.8,147.5 551.3,147.6 551.8,147.8 552.3,147.9 552.8,148.1 553.3,148.3 553.8,148.4 554.3,148.6 554.8,148.7 555.3,148.9 555.8,149.1 556.3,149.2 556.8,149.4 557.3,149.5 557.8,149.7 558.3,149.8 558.8,150.0 559.3,150.1 559.8,150.3 560.3,150.4 560.8,150.6 561.3,150.7 561.8,150.9 562.3,151.0 562.8,151.2 563.3,151.3 563.8,151.5 564.3,151.6 564.8,151.8 565.3,151.9 565.8,152.1 566.3,152.2 566.8,152.4 567.3,152.5 567.8,152.7 568.3,152.8 568.8,152.9 569.3,153.1 569.8,153.2 570.3,153.4 570.8,153.5 571.3,153.7 571.8,153.8 572.3,153.9 572.8,154.1 573.3,154.2 573.8,154.3 574.3,154.5 574.8,154.6 575.3,154.7 575.8,154.9 576.3,155.0 576.8,155.1 577.3,155.3 577.8,155.4 578.3,155.5 578.8,155.7 579.3,155.8 579.8,155.9 580.3,156.0 580.8,156.2 581.3,156.3 581.8,156.4 582.3,156.5 582.8,156.6 583.3,156.8 583.8,156.9 584.3,157.0 584.8,157.1 585.3,157.2 585.8,157.3 586.3,157.5 586.8,157.6 587.3,157.7 587.8,157.8 588.3,157.9 588.8,158.0 589.3,158.1 589.8,158.2 590.3,158.3 590.8,158.4 591.3,158.5 591.8,158.6 592.3,158.7 592.8,158.8 593.3,158.9 593.8,159.0 594.3,159.1 594.8,159.2 595.3,159.3 595.8,159.4 596.3,159.5 596.8,159.6 597.3,159.7 597.8,159.7 598.3,159.8 598.8,159.9 599.3,160.0 599.8,160.1 600.3,160.1 600.8,160.2 601.3,160.3 601.8,160.4 602.3,160.4 602.8,160.5 603.3,160.6 603.8,160.7 604.3,160.7 604.8,160.8 605.3,160.8 605.8,160.9 606.3,161.0 606.8,161.0 607.3,161.1 607.8,161.1 608.3,161.2 608.8,161.3 609.3,161.3 609.8,161.4 610.3,161.4 610.8,161.4 611.3,161.5 611.8,161.5 612.3,161.6 612.8,161.6 613.3,161.7 613.8,161.7 614.3,161.7 614.8,161.8 615.3,161.8 615.8,161.8 616.3,161.8 616.8,161.9 617.3,161.9 617.8,161.9 618.3,161.9 618.8,161.9 619.3,162.0 619.8,162.0 620.3,162.0 620.8,162.0 621.3,162.0 621.8,162.0 622.3,162.0 622.8,162.0 623.3,162.0 623.8,162.0 624.1,162.0" fill="none" stroke="#D95319" stroke-width="1.3" stroke-linejoin="round"/>
<polyline points="348.8,175.1 349.3,175.1 349.8,175.1 350.3,175.0 350.8,175.0 351.3,175.0 351.8,174.9 352.3,174.9 352.8,174.9 353.3,174.8 353.8,174.8 354.3,174.7 354.8,174.7 355.3,174.6 355.8,174.5 356.3,174.5 356.8,174.4 357.3,174.3 357.8,174.2 358.3,174.2 358.8,174.1 359.3,174.0 359.8,173.9 360.3,173.8 360.8,173.7 361.3,173.6 361.8,173.5 362.3,173.4 362.8,173.3 363.3,173.2 363.8,173.1 364.3,173.0 364.8,172.9 365.3,172.8 365.8,172.7 366.3,172.5 366.8,172.4 367.3,172.3 367.8,172.2 368.3,172.0 368.8,171.9 369.3,171.8 369.8,171.6 370.3,171.5 370.8,171.3 371.3,171.2 371.8,171.1 372.3,170.9 372.8,170.8 373.3,170.6 373.8,170.5 374.3,170.3 374.8,170.1 375.3,170.0 375.8,169.8 376.3,169.7 376.8,169.5 377.3,169.3 377.8,169.1 378.3,169.0 378.8,168.8 379.3,168.6 379.8,168.5 380.3,168.3 380.8,168.1 381.3,167.9 381.8,167.7 382.3,167.6 382.8,167.4 383.3,167.2 383.8,167.0 384.3,166.8 384.8,166.6 385.3,166.4 385.8,166.2 386.3,166.0 386.8,165.8 387.3,165.6 387.8,165.4 388.3,165.2 388.8,165.0 389.3,164.8 389.8,164.6 390.3,164.4 390.8,164.2 391.3,164.0 391.8,163.8 392.3,163.6 392.8,163.4 393.3,163.1 393.8,162.9 394.3,162.7 394.8,162.4 395.3,162.2 395.8,162.0 396.3,161.7 396.8,161.4 397.3,161.2 397.8,160.9 398.3,160.6 398.8,160.4 399.3,160.1 399.8,159.8 400.3,159.5 400.8,159.1 401.3,158.8 401.8,158.5 402.3,158.2 402.8,157.8 403.3,157.4 403.8,157.1 404.3,156.7 404.8,156.3 405.3,155.9 405.8,155.5 406.3,155.1 406.8,154.7 407.3,154.2 407.8,153.8 408.3,153.3 408.8,152.8 409.3,152.3 409.8,151.8 410.3,151.3 410.8,150.8 411.3,150.2 411.8,149.7 412.3,149.1 412.8,148.5 413.3,147.9 413.8,147.3 414.3,146.7 414.8,146.0 415.3,145.4 415.8,144.7 416.3,144.0 416.8,143.3 417.3,142.6 417.8,141.8 418.3,141.1 418.8,140.3 419.3,139.5 419.8,138.7 420.3,137.8 420.8,137.0 421.3,136.1 421.8,135.3 422.3,134.4 422.8,133.5 423.3,132.6 423.8,131.7 424.3,130.8 424.8,129.9 425.3,129.0 425.8,128.1 426.3,127.2 426.8,126.3 427.3,125.4 427.8,124.4 428.3,123.5 428.8,122.6 429.3,121.7 429.8,120.7 430.3,119.8 430.8,118.8 431.3,117.8 431.8,116.8 432.3,115.7 432.8,114.6 433.3,113.4 433.8,112.3 434.3,111.1 434.8,109.8 435.3,108.5 435.8,107.2 436.3,105.9 436.8,104.5 437.3,103.1 437.8,101.7 438.3,100.2 438.8,98.8 439.3,97.3 439.8,95.8 440.3,94.3 440.8,92.7 441.3,91.2 441.8,89.6 442.3,88.0 442.8,86.5 443.3,84.9 443.8,83.3 444.3,81.7 444.8,80.1 445.3,78.5 445.8,76.9 446.3,75.3 446.8,73.6 447.3,72.0 447.8,70.4 448.3,68.7 448.8,67.1 449.3,65.4 449.8,63.6 450.3,61.9 450.8,60.1 451.3,58.3 451.8,56.5 452.3,54.6 452.8,52.8 453.3,51.0 453.8,49.4 454.1,48.6 455.6,40.6 457.5,19.8 458.4,44.4 459.1,59.3 459.7,49.0 460.6,47.3 461.5,46.8 462.5,46.7 462.8,46.6 463.3,46.5 463.8,46.4 464.3,46.3 464.8,46.4 465.3,46.5 465.8,46.8 466.3,47.2 466.8,47.7 467.3,48.3 467.8,49.0 468.3,49.6 468.8,50.3 469.3,51.0 469.8,51.8 470.3,52.6 470.8,53.4 471.3,54.3 471.8,55.2 472.3,56.1 472.8,57.1 473.3,58.1 473.8,59.2 474.3,60.3 474.8,61.3 475.3,62.4 475.8,63.6 476.3,64.7 476.8,65.8 477.3,67.0 477.8,68.1 478.3,69.2 478.8,70.3 479.3,71.4 479.8,72.6 480.3,73.7 480.8,74.7 481.3,75.8 481.8,76.9 482.3,78.0 482.8,79.1 483.3,80.1 483.8,81.2 484.3,82.2 484.8,83.2 485.3,84.3 485.8,85.3 486.3,86.3 486.8,87.3 487.3,88.3 487.8,89.3 488.3,90.2 488.8,91.2 489.3,92.1 489.8,93.1 490.3,94.0 490.8,94.9 491.3,95.8 491.8,96.7 492.3,97.6 492.8,98.5 493.3,99.3 493.8,100.2 494.3,101.0 494.8,101.8 495.3,102.6 495.8,103.4 496.3,104.2 496.8,104.9 497.3,105.7 497.8,106.4 498.3,107.1 498.8,107.8 499.3,108.5 499.8,109.1 500.3,109.8 500.8,110.4 501.3,111.0 501.8,111.6 502.3,112.2 502.8,112.8 503.3,113.4 503.8,113.9 504.3,114.4 504.8,114.9 505.3,115.4 505.8,115.9 506.3,116.4 506.8,116.9 507.3,117.3 507.8,117.8 508.3,118.2 508.8,118.7 509.3,119.1 509.8,119.5 510.3,119.9 510.8,120.3 511.3,120.7 511.8,121.1 512.3,121.4 512.8,121.8 513.3,122.2 513.8,122.5 514.3,122.9 514.8,123.2 515.3,123.6 515.8,123.9 516.3,124.3 516.8,124.6 517.3,125.0 517.8,125.3 518.3,125.6 518.8,125.9 519.3,126.3 519.8,126.6 520.3,126.9 520.8,127.2 521.3,127.5 521.8,127.8 522.3,128.2 522.8,128.5 523.3,128.8 523.8,129.1 524.3,129.4 524.8,129.6 525.3,129.9 525.8,130.2 526.3,130.5 526.8,130.8 527.3,131.1 527.8,131.4 528.3,131.6 528.8,131.9 529.3,132.2 529.8,132.4 530.3,132.7 530.8,133.0 531.3,133.2 531.8,133.5 532.3,133.7 532.8,134.0 533.3,134.2 533.8,134.5 534.3,134.7 534.8,135.0 535.3,135.2 535.8,135.4 536.3,135.7 536.8,135.9 537.3,136.1 537.8,136.4 538.3,136.6 538.8,136.8 539.3,137.0 539.8,137.3 540.3,137.5 540.8,137.7 541.3,137.9 541.8,138.1 542.3,138.3 542.8,138.5 543.3,138.7 543.8,138.9 544.3,139.1 544.8,139.3 545.3,139.5 545.8,139.7 546.3,139.9 546.8,140.1 547.3,140.3 547.8,140.5 548.3,140.7 548.8,140.8 549.3,141.0 549.8,141.2 550.3,141.4 550.8,141.5 551.3,141.7 551.8,141.9 552.3,142.1 552.8,142.2 553.3,142.4 553.8,142.6 554.3,142.7 554.8,142.9 555.3,143.0 555.8,143.2 556.3,143.3 556.8,143.5 557.3,143.6 557.8,143.8 558.3,143.9 558.8,144.1 559.3,144.2 559.8,144.4 560.3,144.5 560.8,144.7 561.3,144.8 561.8,144.9 562.3,145.1 562.8,145.2 563.3,145.3 563.8,145.5 564.3,145.6 564.8,145.7 565.3,145.8 565.8,146.0 566.3,146.1 566.8,146.2 567.3,146.3 567.8,146.5 568.3,146.6 568.8,146.7 569.3,146.8 569.8,146.9 570.3,147.0 570.8,147.1 571.3,147.3 571.8,147.4 572.3,147.5 572.8,147.6 573.3,147.7 573.8,147.8 574.3,147.9 574.8,148.0 575.3,148.1 575.8,148.2 576.3,148.3 576.8,148.4 577.3,148.5 577.8,148.6 578.3,148.7 578.8,148.8 579.3,148.9 579.8,149.0 580.3,149.0 580.8,149.1 581.3,149.2 581.8,149.3 582.3,149.4 582.8,149.5 583.3,149.6 583.8,149.7 584.3,149.7 584.8,149.8 585.3,149.9 585.8,150.0 586.3,150.1 586.8,150.2 587.3,150.2 587.8,150.3 588.3,150.4 588.8,150.5 589.3,150.5 589.8,150.6 590.3,150.7 590.8,150.8 591.3,150.8 591.8,150.9 592.3,151.0 592.8,151.1 593.3,151.1 593.8,151.2 594.3,151.3 594.8,151.4 595.3,151.4 595.8,151.5 596.3,151.6 596.8,151.6 597.3,151.7 597.8,151.8 598.3,151.8 598.8,151.9 599.3,152.0 599.8,152.0 600.3,152.1 600.8,152.2 601.3,152.2 601.8,152.3 602.3,152.4 602.8,152.4 603.3,152.5 603.8,152.6 604.3,152.6 604.8,152.7 605.3,152.8 605.8,152.8 606.3,152.9 606.8,153.0 607.3,153.0 607.8,153.1 608.3,153.1 608.8,153.2 609.3,153.3 609.8,153.3 610.3,153.4 610.8,153.5 611.3,153.5 611.8,153.6 612.3,153.7 612.8,153.7 613.3,153.8 613.8,153.9 614.3,153.9 614.8,154.0 615.3,154.0 615.8,154.1 616.3,154.2 616.8,154.2 617.3,154.3 617.8,154.4 618.3,154.4 618.8,154.5 619.3,154.6 619.8,154.6 620.3,154.7 620.8,154.8 621.3,154.9 621.8,154.9 622.3,155.0 622.8,155.1 623.3,155.1 623.8,155.2 624.1,155.2" fill="none" stroke="#EDB120" stroke-width="1.2" stroke-linejoin="round"/>
<polyline points="348.8,190.3 349.3,190.2 349.8,190.1 350.3,190.0 350.8,189.9 351.3,189.7 351.8,189.6 352.3,189.5 352.8,189.4 353.3,189.3 353.8,189.2 354.3,189.0 354.8,188.9 355.3,188.8 355.8,188.7 356.3,188.6 356.8,188.5 357.3,188.3 357.8,188.2 358.3,188.1 358.8,188.0 359.3,187.9 359.8,187.7 360.3,187.6 360.8,187.5 361.3,187.4 361.8,187.2 362.3,187.1 362.8,187.0 363.3,186.9 363.8,186.7 364.3,186.6 364.8,186.4 365.3,186.3 365.8,186.2 366.3,186.0 366.8,185.9 367.3,185.7 367.8,185.6 368.3,185.4 368.8,185.3 369.3,185.1 369.8,185.0 370.3,184.8 370.8,184.7 371.3,184.5 371.8,184.3 372.3,184.1 372.8,184.0 373.3,183.8 373.8,183.6 374.3,183.4 374.8,183.2 375.3,183.1 375.8,182.9 376.3,182.7 376.8,182.5 377.3,182.3 377.8,182.1 378.3,181.9 378.8,181.6 379.3,181.4 379.8,181.2 380.3,181.0 380.8,180.7 381.3,180.5 381.8,180.3 382.3,180.0 382.8,179.8 383.3,179.5 383.8,179.3 384.3,179.0 384.8,178.7 385.3,178.5 385.8,178.2 386.3,177.9 386.8,177.6 387.3,177.3 387.8,177.1 388.3,176.8 388.8,176.5 389.3,176.1 389.8,175.8 390.3,175.5 390.8,175.2 391.3,174.8 391.8,174.5 392.3,174.2 392.8,173.8 393.3,173.5 393.8,173.1 394.3,172.7 394.8,172.4 395.3,172.0 395.8,171.6 396.3,171.2 396.8,170.8 397.3,170.4 397.8,170.0 398.3,169.6 398.8,169.1 399.3,168.7 399.8,168.3 400.3,167.8 400.8,167.4 401.3,166.9 401.8,166.5 402.3,166.0 402.8,165.5 403.3,165.0 403.8,164.5 404.3,164.0 404.8,163.5 405.3,163.0 405.8,162.5 406.3,161.9 406.8,161.4 407.3,160.8 407.8,160.3 408.3,159.7 408.8,159.1 409.3,158.6 409.8,158.0 410.3,157.4 410.8,156.8 411.3,156.1 411.8,155.5 412.3,154.9 412.8,154.2 413.3,153.6 413.8,152.9 414.3,152.3 414.8,151.6 415.3,150.9 415.8,150.2 416.3,149.5 416.8,148.8 417.3,148.1 417.8,147.3 418.3,146.6 418.8,145.8 419.3,145.1 419.8,144.3 420.3,143.5 420.8,142.7 421.3,141.9 421.8,141.1 422.3,140.2 422.8,139.4 423.3,138.5 423.8,137.6 424.3,136.7 424.8,135.7 425.3,134.8 425.8,133.8 426.3,132.8 426.8,131.7 427.3,130.7 427.8,129.6 428.3,128.4 428.8,127.3 429.3,126.1 429.8,124.9 430.3,123.6 430.8,122.4 431.3,121.1 431.8,119.7 432.3,118.4 432.8,117.0 433.3,115.6 433.8,114.1 434.3,112.7 434.8,111.2 435.3,109.7 435.8,108.2 436.3,106.7 436.8,105.1 437.3,103.6 437.8,102.0 438.3,100.5 438.8,98.9 439.3,97.3 439.8,95.7 440.3,94.1 440.8,92.5 441.3,90.9 441.8,89.4 442.3,87.8 442.8,86.2 443.3,84.6 443.8,83.1 444.3,81.5 444.8,80.0 445.3,78.5 445.8,77.0 446.3,75.5 446.8,74.0 447.3,72.6 447.8,71.2 448.3,69.8 448.8,68.4 449.3,67.1 449.8,65.8 450.3,64.5 450.8,63.3 451.3,62.1 451.8,61.0 452.3,59.8 452.8,58.8 453.3,57.8 453.8,56.8 454.3,55.8 454.8,55.0 455.3,54.1 455.8,53.4 456.3,52.7 456.8,52.0 457.3,51.4 457.8,50.9 458.3,50.4 458.8,50.0 459.3,49.7 459.8,49.4 460.3,49.2 460.8,49.1 461.3,49.1 461.8,49.1 462.3,49.2 462.8,49.4 463.3,49.7 463.8,50.0 464.3,50.4 464.8,50.8 465.3,51.3 465.8,51.8 466.3,52.4 466.8,53.1 467.3,53.8 467.8,54.5 468.3,55.3 468.8,56.1 469.3,56.9 469.8,57.7 470.3,58.6 470.8,59.5 471.3,60.4 471.8,61.4 472.3,62.3 472.8,63.3 473.3,64.2 473.8,65.2 474.3,66.2 474.8,67.2 475.3,68.2 475.8,69.2 476.3,70.2 476.8,71.2 477.3,72.2 477.8,73.2 478.3,74.2 478.8,75.2 479.3,76.2 479.8,77.2 480.3,78.2 480.8,79.2 481.3,80.2 481.8,81.2 482.3,82.2 482.8,83.2 483.3,84.2 483.8,85.2 484.0,85.6 485.2,90.5 487.2,76.3 489.5,94.5 490.5,95.2 491.5,96.0 493.0,102.1 493.3,102.6 493.8,103.4 494.3,104.2 494.8,105.0 495.3,105.8 495.8,106.6 496.3,107.4 496.8,108.2 497.3,109.0 497.8,109.7 498.3,110.5 498.8,111.2 499.3,112.0 499.8,112.7 500.3,113.4 500.8,114.1 501.3,114.8 501.8,115.5 502.3,116.1 502.8,116.8 503.3,117.4 503.8,118.1 504.3,118.7 504.8,119.3 505.3,119.9 505.8,120.5 506.3,121.1 506.8,121.7 507.3,122.2 507.8,122.8 508.3,123.3 508.8,123.9 509.3,124.4 509.8,124.9 510.3,125.4 510.8,125.9 511.3,126.4 511.8,126.9 512.3,127.3 512.8,127.8 513.3,128.3 513.8,128.7 514.3,129.2 514.8,129.6 515.3,130.0 515.8,130.4 516.3,130.9 516.8,131.3 517.3,131.7 517.8,132.1 518.3,132.5 518.8,132.9 519.3,133.2 519.8,133.6 520.3,134.0 520.8,134.3 521.3,134.7 521.8,135.1 522.3,135.4 522.8,135.8 523.3,136.1 523.8,136.4 524.3,136.8 524.8,137.1 525.3,137.4 525.8,137.7 526.3,138.0 526.8,138.3 527.3,138.6 527.8,138.9 528.3,139.2 528.8,139.5 529.3,139.8 529.8,140.0 530.3,140.3 530.8,140.6 531.3,140.9 531.8,141.1 532.3,141.4 532.8,141.6 533.3,141.9 533.8,142.1 534.3,142.4 534.8,142.6 535.3,142.8 535.8,143.1 536.3,143.3 536.8,143.5 537.3,143.7 537.8,144.0 538.3,144.2 538.8,144.4 539.3,144.6 539.8,144.8 540.3,145.0 540.8,145.2 541.3,145.4 541.8,145.6 542.3,145.8 542.8,146.0 543.3,146.2 543.8,146.4 544.3,146.6 544.8,146.7 545.3,146.9 545.8,147.1 546.3,147.3 546.8,147.5 547.3,147.6 547.8,147.8 548.3,148.0 548.8,148.1 549.3,148.3 549.8,148.5 550.3,148.6 550.8,148.8 551.3,149.0 551.8,149.1 552.3,149.3 552.8,149.4 553.3,149.6 553.8,149.8 554.3,149.9 554.8,150.1 555.3,150.2 555.8,150.4 556.3,150.5 556.8,150.7 557.3,150.9 557.8,151.0 558.3,151.2 558.8,151.3 559.3,151.5 559.8,151.6 560.3,151.8 560.8,151.9 561.3,152.1 561.8,152.2 562.3,152.4 562.8,152.5 563.3,152.7 563.8,152.8 564.3,153.0 564.8,153.1 565.3,153.3 565.8,153.4 566.3,153.6 566.8,153.7 567.3,153.9 567.8,154.0 568.3,154.2 568.8,154.3 569.3,154.5 569.8,154.6 570.3,154.8 570.8,154.9 571.3,155.0 571.8,155.2 572.3,155.3 572.8,155.5 573.3,155.6 573.8,155.8 574.3,155.9 574.8,156.0 575.3,156.2 575.8,156.3 576.3,156.4 576.8,156.6 577.3,156.7 577.8,156.8 578.3,157.0 578.8,157.1 579.3,157.2 579.8,157.4 580.3,157.5 580.8,157.6 581.3,157.8 581.8,157.9 582.3,158.0 582.8,158.1 583.3,158.3 583.8,158.4 584.3,158.5 584.8,158.6 585.3,158.7 585.8,158.9 586.3,159.0 586.8,159.1 587.3,159.2 587.8,159.3 588.3,159.4 588.8,159.6 589.3,159.7 589.8,159.8 590.3,159.9 590.8,160.0 591.3,160.1 591.8,160.2 592.3,160.3 592.8,160.4 593.3,160.5 593.8,160.6 594.3,160.7 594.8,160.8 595.3,160.9 595.8,161.0 596.3,161.1 596.8,161.2 597.3,161.3 597.8,161.4 598.3,161.4 598.8,161.5 599.3,161.6 599.8,161.7 600.3,161.8 600.8,161.9 601.3,161.9 601.8,162.0 602.3,162.1 602.8,162.2 603.3,162.2 603.8,162.3 604.3,162.4 604.8,162.5 605.3,162.5 605.8,162.6 606.3,162.7 606.8,162.7 607.3,162.8 607.8,162.8 608.3,162.9 608.8,162.9 609.3,163.0 609.8,163.1 610.3,163.1 610.8,163.1 611.3,163.2 611.8,163.2 612.3,163.3 612.8,163.3 613.3,163.4 613.8,163.4 614.3,163.4 614.8,163.5 615.3,163.5 615.8,163.5 616.3,163.6 616.8,163.6 617.3,163.6 617.8,163.6 618.3,163.6 618.8,163.7 619.3,163.7 619.8,163.7 620.3,163.7 620.8,163.7 621.3,163.7 621.8,163.7 622.3,163.7 622.8,163.7 623.3,163.7 623.8,163.7 624.1,163.7" fill="none" stroke="#B27DC9" stroke-width="1.0" stroke-linejoin="round"/>
<polyline points="348.8,198.3 349.3,198.2 349.8,198.0 350.3,197.9 350.8,197.8 351.3,197.6 351.8,197.5 352.3,197.4 352.8,197.2 353.3,197.1 353.8,197.0 354.3,196.8 354.8,196.7 355.3,196.6 355.8,196.5 356.3,196.3 356.8,196.2 357.3,196.1 357.8,195.9 358.3,195.8 358.8,195.7 359.3,195.5 359.8,195.4 360.3,195.3 360.8,195.1 361.3,195.0 361.8,194.9 362.3,194.7 362.8,194.6 363.3,194.4 363.8,194.3 364.3,194.1 364.8,194.0 365.3,193.8 365.8,193.7 366.3,193.5 366.8,193.4 367.3,193.2 367.8,193.0 368.3,192.9 368.8,192.7 369.3,192.5 369.8,192.3 370.3,192.1 370.8,192.0 371.3,191.8 371.8,191.6 372.3,191.4 372.8,191.2 373.3,191.0 373.8,190.8 374.3,190.5 374.8,190.3 375.3,190.1 375.8,189.9 376.3,189.6 376.8,189.4 377.3,189.2 377.8,188.9 378.3,188.7 378.8,188.4 379.3,188.1 379.8,187.9 380.3,187.6 380.8,187.3 381.3,187.0 381.8,186.7 382.3,186.4 382.8,186.1 383.3,185.8 383.8,185.5 384.3,185.1 384.8,184.8 385.3,184.5 385.8,184.1 386.3,183.7 386.8,183.4 387.3,183.0 387.8,182.6 388.3,182.2 388.8,181.8 389.3,181.4 389.8,181.0 390.3,180.6 390.8,180.2 391.3,179.8 391.8,179.3 392.3,178.9 392.8,178.4 393.3,178.0 393.8,177.5 394.3,177.1 394.8,176.6 395.3,176.1 395.8,175.7 396.3,175.2 396.8,174.7 397.3,174.2 397.8,173.8 398.3,173.3 398.8,172.8 399.3,172.3 399.8,171.8 400.3,171.3 400.8,170.8 401.3,170.4 401.8,169.9 402.3,169.4 402.8,168.8 403.3,168.3 403.8,167.8 404.3,167.3 404.8,166.7 405.3,166.2 405.8,165.6 406.3,165.0 406.8,164.4 407.3,163.8 407.8,163.2 408.3,162.5 408.8,161.9 409.3,161.2 409.8,160.6 410.3,159.9 410.8,159.2 411.3,158.5 411.8,157.8 412.3,157.0 412.8,156.3 413.3,155.6 413.8,154.8 414.3,154.1 414.8,153.3 415.3,152.5 415.8,151.7 416.3,150.9 416.8,150.2 417.3,149.3 417.8,148.5 418.3,147.7 418.8,146.9 419.3,146.1 419.8,145.2 420.3,144.4 420.8,143.5 421.3,142.7 421.8,141.8 422.3,140.9 422.8,140.0 423.3,139.1 423.8,138.1 424.3,137.2 424.8,136.2 425.3,135.2 425.8,134.2 426.3,133.2 426.8,132.2 427.3,131.1 427.8,130.0 428.3,128.9 428.8,127.7 429.3,126.5 429.8,125.3 430.3,124.1 430.8,122.8 431.3,121.5 431.8,120.1 432.3,118.8 432.8,117.4 433.3,116.0 433.8,114.5 434.3,113.1 434.8,111.6 435.3,110.1 435.8,108.6 436.3,107.1 436.8,105.6 437.3,104.0 437.8,102.5 438.3,100.9 438.8,99.3 439.3,97.8 439.8,96.2 440.3,94.7 440.8,93.1 441.3,91.5 441.8,90.0 442.3,88.4 442.8,86.9 443.3,85.3 443.8,83.8 444.3,82.3 444.8,80.8 445.3,79.3 445.8,77.8 446.3,76.4 446.8,74.9 447.3,73.5 447.8,72.1 448.3,70.7 448.8,69.4 449.3,68.0 449.8,66.7 450.3,65.4 450.8,64.2 451.3,62.9 451.8,61.8 452.3,60.6 452.8,59.5 453.3,58.4 453.8,57.4 454.3,56.5 454.8,55.6 455.3,54.7 455.8,53.9 456.3,53.1 456.8,52.4 457.3,51.8 457.8,51.3 458.3,50.8 458.8,50.3 459.3,50.0 459.8,49.7 460.3,49.5 460.8,49.4 461.3,49.4 461.8,49.4 462.3,49.5 462.8,49.7 463.3,50.0 463.8,50.4 464.3,50.8 464.8,51.2 465.3,51.8 465.8,52.4 466.3,53.0 466.8,53.7 467.3,54.4 467.8,55.2 468.3,56.0 468.8,56.8 469.3,57.7 469.8,58.6 470.3,59.5 470.8,60.5 471.3,61.4 471.8,62.4 472.3,63.4 472.8,64.3 473.3,65.3 473.8,66.3 474.3,67.3 474.8,68.3 475.3,69.3 475.8,70.3 476.3,71.3 476.8,72.3 477.3,73.3 477.8,74.3 478.3,75.3 478.8,76.3 479.3,77.2 479.8,78.2 480.3,79.2 480.8,80.2 481.3,81.2 481.8,82.2 482.3,83.2 482.8,84.2 483.3,85.2 483.8,86.2 484.3,87.1 484.8,88.1 485.3,89.1 485.8,90.0 486.3,91.0 486.8,92.0 487.3,92.9 487.8,93.9 488.3,94.8 488.8,95.7 489.3,96.7 489.8,97.6 490.3,98.5 490.8,99.4 491.3,100.3 491.8,101.2 492.3,102.1 492.8,103.0 493.3,103.9 493.8,104.7 494.3,105.6 494.8,106.4 495.3,107.3 495.8,108.1 496.3,108.9 496.8,109.7 497.3,110.5 497.8,111.3 498.3,112.1 498.8,112.9 499.3,113.6 499.8,114.4 500.3,115.1 500.8,115.9 501.3,116.6 501.8,117.3 502.3,118.0 502.8,118.6 503.3,119.3 503.8,120.0 504.3,120.6 504.8,121.2 505.3,121.8 505.8,122.4 506.3,123.0 506.8,123.6 507.3,124.2 507.8,124.7 508.3,125.3 508.8,125.8 509.3,126.3 509.8,126.8 510.3,127.3 510.8,127.8 511.0,128.0 511.8,129.0 514.4,138.4 518.4,128.2 521.0,136.2 521.3,136.5 521.8,136.8 522.3,137.2 522.8,137.5 523.3,137.8 523.8,138.2 524.3,138.5 524.8,138.8 525.3,139.1 525.8,139.5 526.3,139.8 526.8,140.1 527.3,140.4 527.8,140.7 528.3,141.0 528.8,141.3 529.3,141.6 529.8,141.9 530.3,142.1 530.8,142.4 531.3,142.7 531.8,143.0 532.3,143.2 532.8,143.5 533.3,143.8 533.8,144.0 534.3,144.3 534.8,144.5 535.3,144.8 535.8,145.0 536.3,145.2 536.8,145.5 537.3,145.7 537.8,145.9 538.3,146.2 538.8,146.4 539.3,146.6 539.8,146.8 540.3,147.1 540.8,147.3 541.3,147.5 541.8,147.7 542.3,147.9 542.8,148.1 543.3,148.3 543.8,148.5 544.3,148.7 544.8,148.9 545.3,149.1 545.8,149.3 546.3,149.5 546.8,149.7 547.3,149.9 547.8,150.1 548.3,150.3 548.8,150.4 549.3,150.6 549.8,150.8 550.3,151.0 550.8,151.2 551.3,151.3 551.8,151.5 552.3,151.7 552.8,151.9 553.3,152.0 553.8,152.2 554.3,152.4 554.8,152.6 555.3,152.7 555.8,152.9 556.3,153.1 556.8,153.2 557.3,153.4 557.8,153.6 558.3,153.7 558.8,153.9 559.3,154.0 559.8,154.2 560.3,154.4 560.8,154.5 561.3,154.7 561.8,154.9 562.3,155.0 562.8,155.2 563.3,155.3 563.8,155.5 564.3,155.7 564.8,155.8 565.3,156.0 565.8,156.1 566.3,156.3 566.8,156.4 567.3,156.6 567.8,156.7 568.3,156.9 568.8,157.0 569.3,157.2 569.8,157.3 570.3,157.5 570.8,157.6 571.3,157.8 571.8,157.9 572.3,158.1 572.8,158.2 573.3,158.4 573.8,158.5 574.3,158.7 574.8,158.8 575.3,158.9 575.8,159.1 576.3,159.2 576.8,159.4 577.3,159.5 577.8,159.6 578.3,159.8 578.8,159.9 579.3,160.0 579.8,160.2 580.3,160.3 580.8,160.4 581.3,160.6 581.8,160.7 582.3,160.8 582.8,160.9 583.3,161.1 583.8,161.2 584.3,161.3 584.8,161.4 585.3,161.6 585.8,161.7 586.3,161.8 586.8,161.9 587.3,162.0 587.8,162.2 588.3,162.3 588.8,162.4 589.3,162.5 589.8,162.6 590.3,162.7 590.8,162.8 591.3,162.9 591.8,163.1 592.3,163.2 592.8,163.3 593.3,163.4 593.8,163.5 594.3,163.6 594.8,163.7 595.3,163.8 595.8,163.9 596.3,164.0 596.8,164.1 597.3,164.2 597.8,164.2 598.3,164.3 598.8,164.4 599.3,164.5 599.8,164.6 600.3,164.7 600.8,164.8 601.3,164.9 601.8,164.9 602.3,165.0 602.8,165.1 603.3,165.2 603.8,165.2 604.3,165.3 604.8,165.4 605.3,165.5 605.8,165.5 606.3,165.6 606.8,165.7 607.3,165.7 607.8,165.8 608.3,165.9 608.8,165.9 609.3,166.0 609.8,166.1 610.3,166.1 610.8,166.2 611.3,166.2 611.8,166.3 612.3,166.3 612.8,166.4 613.3,166.4 613.8,166.5 614.3,166.5 614.8,166.6 615.3,166.6 615.8,166.6 616.3,166.7 616.8,166.7 617.3,166.7 617.8,166.8 618.3,166.8 618.8,166.8 619.3,166.9 619.8,166.9 620.3,166.9 620.8,166.9 621.3,167.0 621.8,167.0 622.3,167.0 622.8,167.0 623.3,167.0 623.8,167.0 624.1,167.0" fill="none" stroke="#1E961E" stroke-width="1.3" stroke-linejoin="round" stroke-dasharray="3,2.6"/>
</g>
<rect x="577.9" y="6.9" width="41.50" height="55.90" fill="#fff" stroke="#8a8a8a" stroke-width="1"/>
<line x1="579.5" y1="12.9" x2="594.1" y2="12.9" stroke="#0072BD" stroke-width="1.35"/>
<text x="595.6" y="14.7" class="lg li">f<tspan dy="2.6" class="sb">b</tspan><tspan dy="-2.6" dx="0.3">=0.8f</tspan><tspan dy="2.6" class="sb">1</tspan></text>
<line x1="579.5" y1="24.2" x2="594.1" y2="24.2" stroke="#D95319" stroke-width="1.35"/>
<text x="595.6" y="26.0" class="lg li">f<tspan dy="2.6" class="sb">b</tspan><tspan dy="-2.6" dx="0.3">=0.9f</tspan><tspan dy="2.6" class="sb">1</tspan></text>
<line x1="579.5" y1="35.2" x2="594.1" y2="35.2" stroke="#EDB120" stroke-width="1.35"/>
<text x="595.6" y="37.0" class="lg li">f<tspan dy="2.6" class="sb">b</tspan><tspan dy="-2.6" dx="0.3">=f</tspan><tspan dy="2.6" class="sb">1</tspan></text>
<line x1="579.5" y1="46.3" x2="594.1" y2="46.3" stroke="#B27DC9" stroke-width="1.0"/>
<text x="595.6" y="48.1" class="lg li">f<tspan dy="2.6" class="sb">b</tspan><tspan dy="-2.6" dx="0.3">=1.1f</tspan><tspan dy="2.6" class="sb">1</tspan></text>
<line x1="579.5" y1="57.4" x2="594.1" y2="57.4" stroke="#1E961E" stroke-width="1.5" stroke-dasharray="3,2.7"/>
<text x="595.6" y="59.2" class="lg li">f<tspan dy="2.6" class="sb">b</tspan><tspan dy="-2.6" dx="0.3">=1.2f</tspan><tspan dy="2.6" class="sb">1</tspan></text>
<rect x="32.9" y="265.7" width="277.30" height="215.60" fill="none" stroke="#8a8a8a" stroke-width="1"/>
<path d="M32.90 481.3V478.8M32.90 265.7V268.2" stroke="#8a8a8a" stroke-width="1"/>
<text x="32.90" y="491.00" text-anchor="middle" class="tk">1</text>
<path d="M125.33 481.3V478.8M125.33 265.7V268.2" stroke="#8a8a8a" stroke-width="1"/>
<text x="125.33" y="491.00" text-anchor="middle" class="tk">1.5</text>
<path d="M217.77 481.3V478.8M217.77 265.7V268.2" stroke="#8a8a8a" stroke-width="1"/>
<text x="217.77" y="491.00" text-anchor="middle" class="tk">2</text>
<path d="M310.20 481.3V478.8M310.20 265.7V268.2" stroke="#8a8a8a" stroke-width="1"/>
<text x="310.20" y="491.00" text-anchor="middle" class="tk">2.5</text>
<path d="M32.9 481.30H35.4M310.2 481.30H307.7" stroke="#8a8a8a" stroke-width="1"/>
<text x="30.40" y="484.50" text-anchor="end" class="tk">0.005</text>
<path d="M32.9 459.74H35.4M310.2 459.74H307.7" stroke="#8a8a8a" stroke-width="1"/>
<text x="30.40" y="462.94" text-anchor="end" class="tk">0.01</text>
<path d="M32.9 438.18H35.4M310.2 438.18H307.7" stroke="#8a8a8a" stroke-width="1"/>
<text x="30.40" y="441.38" text-anchor="end" class="tk">0.015</text>
<path d="M32.9 416.62H35.4M310.2 416.62H307.7" stroke="#8a8a8a" stroke-width="1"/>
<text x="30.40" y="419.82" text-anchor="end" class="tk">0.02</text>
<path d="M32.9 395.06H35.4M310.2 395.06H307.7" stroke="#8a8a8a" stroke-width="1"/>
<text x="30.40" y="398.26" text-anchor="end" class="tk">0.025</text>
<path d="M32.9 373.50H35.4M310.2 373.50H307.7" stroke="#8a8a8a" stroke-width="1"/>
<text x="30.40" y="376.70" text-anchor="end" class="tk">0.03</text>
<path d="M32.9 351.94H35.4M310.2 351.94H307.7" stroke="#8a8a8a" stroke-width="1"/>
<text x="30.40" y="355.14" text-anchor="end" class="tk">0.035</text>
<path d="M32.9 330.38H35.4M310.2 330.38H307.7" stroke="#8a8a8a" stroke-width="1"/>
<text x="30.40" y="333.58" text-anchor="end" class="tk">0.04</text>
<path d="M32.9 308.82H35.4M310.2 308.82H307.7" stroke="#8a8a8a" stroke-width="1"/>
<text x="30.40" y="312.02" text-anchor="end" class="tk">0.045</text>
<path d="M32.9 287.26H35.4M310.2 287.26H307.7" stroke="#8a8a8a" stroke-width="1"/>
<text x="30.40" y="290.46" text-anchor="end" class="tk">0.05</text>
<path d="M32.9 265.70H35.4M310.2 265.70H307.7" stroke="#8a8a8a" stroke-width="1"/>
<text x="30.40" y="268.90" text-anchor="end" class="tk">0.055</text>
<g clip-path="url(#cc)">
<polyline points="33.0,444.8 33.5,444.9 34.0,444.9 34.5,445.0 35.0,445.1 35.5,445.1 36.0,445.2 36.5,445.2 37.0,445.3 37.5,445.3 38.0,445.3 38.5,445.3 39.0,445.4 39.5,445.4 40.0,445.4 40.5,445.4 41.0,445.4 41.5,445.4 42.0,445.4 42.5,445.4 43.0,445.4 43.5,445.4 44.0,445.3 44.5,445.3 45.0,445.3 45.5,445.2 46.0,445.2 46.5,445.2 47.0,445.1 47.5,445.1 48.0,445.0 48.5,445.0 49.0,444.9 49.5,444.9 50.0,444.8 50.5,444.8 51.0,444.7 51.5,444.6 52.0,444.6 52.5,444.5 53.0,444.4 53.5,444.4 54.0,444.3 54.5,444.2 55.0,444.1 55.5,444.1 56.0,444.0 56.5,443.9 57.0,443.8 57.5,443.8 58.0,443.7 58.5,443.6 59.0,443.5 59.5,443.4 60.0,443.3 60.5,443.3 61.0,443.2 61.5,443.1 62.0,443.0 62.5,442.9 63.0,442.8 63.5,442.8 64.0,442.7 64.5,442.6 65.0,442.5 65.5,442.4 66.0,442.3 66.5,442.3 67.0,442.2 67.5,442.1 68.0,442.1 68.5,442.0 69.0,441.9 69.5,441.9 70.0,441.9 70.5,441.8 71.0,441.7 71.5,441.6 72.0,441.5 72.5,441.6 73.0,441.7 73.5,441.8 74.0,441.9 74.5,441.8 75.0,441.7 75.5,441.5 76.0,441.5 76.5,441.8 77.0,442.0 77.5,442.4 78.0,442.4 78.5,442.2 79.0,441.9 79.5,442.0 80.2,441.8 81.3,445.9 82.8,466.7 85.6,432.7 87.8,438.2 89.4,436.0 90.0,436.1 90.5,435.9 91.0,436.4 91.5,436.7 92.0,435.8 92.5,434.9 93.0,434.1 93.5,433.5 94.0,434.1 94.5,434.5 95.0,435.0 95.5,435.0 96.0,434.3 96.5,433.5 97.0,432.8 97.5,432.6 98.0,432.8 98.5,433.1 99.0,433.3 99.5,432.9 100.0,432.2 100.5,431.4 101.0,430.7 101.5,430.4 102.0,430.3 102.5,430.2 103.0,430.0 103.5,429.4 104.0,428.6 104.5,427.8 105.0,427.0 105.5,426.6 106.0,426.3 106.5,426.0 107.0,425.6 107.5,424.8 108.0,424.1 108.5,423.3 109.0,422.6 109.5,422.2 110.0,421.8 110.5,421.4 111.0,420.9 111.5,420.3 112.0,419.7 112.5,419.1 113.0,418.6 113.5,418.2 114.0,417.8 114.5,417.3 115.0,416.8 115.5,416.3 116.0,415.8 116.5,415.3 117.0,414.8 117.5,414.3 118.0,413.7 118.5,413.2 119.0,412.6 119.5,411.9 120.0,411.3 120.5,410.6 121.0,409.9 121.5,409.2 122.0,408.4 122.5,407.5 123.0,406.7 123.5,405.8 124.0,404.8 124.5,403.8 125.0,402.8 125.5,401.7 126.0,400.6 126.5,399.5 127.0,398.4 127.5,397.3 128.0,396.2 128.5,395.0 129.0,393.9 129.5,392.8 130.0,391.6 130.5,390.5 131.0,389.5 131.5,388.4 132.0,387.3 132.5,386.3 133.0,385.3 133.5,384.3 134.0,383.4 134.5,382.5 135.0,381.6 135.5,380.7 136.0,379.9 136.5,379.1 137.0,378.3 137.5,377.6 138.0,376.9 138.5,376.3 139.0,375.7 139.5,375.1 140.0,374.6 140.5,374.2 141.0,373.7 141.5,373.3 142.0,373.0 142.5,372.7 143.0,372.5 143.5,372.2 144.0,372.1 144.5,371.9 145.0,371.9 145.5,371.8 146.0,371.8 146.5,371.8 147.0,371.9 147.5,372.0 148.0,372.2 148.5,372.4 149.0,372.6 149.5,372.9 150.0,373.2 150.5,373.6 151.0,373.9 151.5,374.4 152.0,374.8 152.5,375.3 153.0,375.8 153.5,376.4 154.0,377.0 154.5,377.6 155.0,378.2 155.5,378.9 156.0,379.6 156.5,380.3 157.0,381.0 157.5,381.7 158.0,382.4 158.5,383.2 159.0,383.9 159.5,384.6 160.0,385.4 160.5,386.1 161.0,386.9 161.5,387.6 162.0,388.3 162.5,389.0 163.0,389.7 163.5,390.3 164.0,391.0 164.5,391.6 165.0,392.2 165.5,392.8 166.0,393.4 166.5,394.0 167.0,394.6 167.5,395.1 168.0,395.7 168.5,396.2 169.0,396.7 169.5,397.2 170.0,397.7 170.5,398.2 171.0,398.7 171.5,399.2 172.0,399.7 172.5,400.2 173.0,400.6 173.5,401.1 174.0,401.5 174.5,402.0 175.0,402.4 175.5,402.9 176.0,403.3 176.5,403.8 177.0,404.2 177.5,404.6 178.0,405.1 178.5,405.5 179.0,405.9 179.5,406.3 180.0,406.8 180.5,407.2 181.0,407.6 181.5,408.0 182.0,408.4 182.5,408.8 183.0,409.2 183.5,409.6 184.0,410.0 184.5,410.3 185.0,410.7 185.5,411.1 186.0,411.5 186.5,411.8 187.0,412.2 187.5,412.6 188.0,412.9 188.5,413.3 189.0,413.6 189.5,414.0 190.0,414.3 190.5,414.6 191.0,414.9 191.5,415.3 192.0,415.6 192.5,415.9 193.0,416.2 193.5,416.5 194.0,416.8 194.5,417.1 195.0,417.4 195.5,417.7 196.0,418.0 196.5,418.3 197.0,418.6 197.5,418.8 198.0,419.1 198.5,419.4 199.0,419.6 199.5,419.9 200.0,420.2 200.5,420.4 201.0,420.7 201.5,420.9 202.0,421.1 202.5,421.4 203.0,421.6 203.5,421.9 204.0,422.1 204.5,422.3 205.0,422.5 205.5,422.7 206.0,423.0 206.5,423.2 207.0,423.4 207.5,423.6 208.0,423.8 208.5,424.0 209.0,424.2 209.5,424.4 210.0,424.6 210.5,424.7 211.0,424.9 211.5,425.1 212.0,425.3 212.5,425.5 213.0,425.6 213.5,425.8 214.0,426.0 214.5,426.1 215.0,426.3 215.5,426.5 216.0,426.6 216.5,426.8 217.0,426.9 217.5,427.1 218.0,427.2 218.5,427.3 219.0,427.5 219.5,427.6 220.0,427.8 220.5,427.9 221.0,428.0 221.5,428.2 222.0,428.3 222.5,428.4 223.0,428.5 223.5,428.7 224.0,428.8 224.5,428.9 225.0,429.0 225.5,429.1 226.0,429.2 226.5,429.3 227.0,429.4 227.5,429.5 228.0,429.7 228.5,429.8 229.0,429.9 229.5,430.0 230.0,430.0 230.5,430.1 231.0,430.2 231.5,430.3 232.0,430.4 232.5,430.5 233.0,430.6 233.5,430.7 234.0,430.8 234.5,430.9 235.0,430.9 235.5,431.0 236.0,431.1 236.5,431.2 237.0,431.2 237.5,431.3 238.0,431.4 238.5,431.5 239.0,431.5 239.5,431.6 240.0,431.7 240.5,431.8 241.0,431.8 241.5,431.9 242.0,431.9 242.5,432.0 243.0,432.1 243.5,432.1 244.0,432.2 244.5,432.3 245.0,432.3 245.5,432.4 246.0,432.4 246.5,432.5 247.0,432.5 247.5,432.6 248.0,432.6 248.5,432.7 249.0,432.7 249.5,432.8 250.0,432.8 250.5,432.9 251.0,432.9 251.5,433.0 252.0,433.0 252.5,433.1 253.0,433.1 253.5,433.2 254.0,433.2 254.5,433.2 255.0,433.3 255.5,433.3 256.0,433.4 256.5,433.4 257.0,433.4 257.5,433.5 258.0,433.5 258.5,433.5 259.0,433.6 259.5,433.6 260.0,433.6 260.5,433.7 261.0,433.7 261.5,433.7 262.0,433.8 262.5,433.8 263.0,433.8 263.5,433.9 264.0,433.9 264.5,433.9 265.0,434.0 265.5,434.0 266.0,434.0 266.5,434.0 267.0,434.1 267.5,434.1 268.0,434.1 268.5,434.1 269.0,434.2 269.5,434.2 270.0,434.2 270.5,434.2 271.0,434.3 271.5,434.3 272.0,434.3 272.5,434.3 273.0,434.4 273.5,434.4 274.0,434.4 274.5,434.4 275.0,434.5 275.5,434.5 276.0,434.5 276.5,434.5 277.0,434.6 277.5,434.6 278.0,434.6 278.5,434.6 279.0,434.6 279.5,434.7 280.0,434.7 280.5,434.7 281.0,434.7 281.5,434.8 282.0,434.8 282.5,434.8 283.0,434.8 283.5,434.9 284.0,434.9 284.5,434.9 285.0,434.9 285.5,434.9 286.0,435.0 286.5,435.0 287.0,435.0 287.5,435.0 288.0,435.1 288.5,435.1 289.0,435.1 289.5,435.2 290.0,435.2 290.5,435.2 291.0,435.2 291.5,435.3 292.0,435.3 292.5,435.3 293.0,435.3 293.5,435.4 294.0,435.4 294.5,435.4 295.0,435.5 295.5,435.5 296.0,435.5 296.5,435.6 297.0,435.6 297.5,435.6 298.0,435.7 298.5,435.7 299.0,435.7 299.5,435.8 300.0,435.8 300.5,435.8 301.0,435.9 301.5,435.9 302.0,436.0 302.5,436.0 303.0,436.0 303.5,436.1 304.0,436.1 304.5,436.2 305.0,436.2 305.5,436.3 306.0,436.3 306.5,436.4 307.0,436.4 307.5,436.5 308.0,436.5 308.5,436.6 309.0,436.6 309.5,436.7 310.0,436.7 310.2,436.7" fill="none" stroke="#0072BD" stroke-width="1.3" stroke-linejoin="round"/>
<polyline points="33.0,411.5 33.5,411.5 34.0,411.5 34.5,411.5 35.0,411.5 35.5,411.5 36.0,411.5 36.5,411.5 37.0,411.6 37.5,411.6 38.0,411.6 38.5,411.6 39.0,411.6 39.5,411.6 40.0,411.6 40.5,411.6 41.0,411.6 41.5,411.6 42.0,411.5 42.5,411.5 43.0,411.5 43.5,411.5 44.0,411.5 44.5,411.5 45.0,411.5 45.5,411.5 46.0,411.4 46.5,411.4 47.0,411.4 47.5,411.4 48.0,411.4 48.5,411.3 49.0,411.3 49.5,411.3 50.0,411.2 50.5,411.2 51.0,411.2 51.5,411.2 52.0,411.1 52.5,411.1 53.0,411.1 53.5,411.0 54.0,411.0 54.5,410.9 55.0,410.9 55.5,410.9 56.0,410.8 56.5,410.8 57.0,410.7 57.5,410.7 58.0,410.6 58.5,410.6 59.0,410.5 59.5,410.5 60.0,410.4 60.5,410.4 61.0,410.3 61.5,410.3 62.0,410.2 62.5,410.2 63.0,410.1 63.5,410.0 64.0,410.0 64.5,409.9 65.0,409.9 65.5,409.8 66.0,409.7 66.5,409.7 67.0,409.6 67.5,409.5 68.0,409.5 68.5,409.4 69.0,409.3 69.5,409.2 70.0,409.2 70.5,409.1 71.0,409.0 71.5,409.0 72.0,408.9 72.5,408.8 73.0,408.7 73.5,408.6 74.0,408.6 74.5,408.5 75.0,408.4 75.5,408.3 76.0,408.2 76.5,408.1 77.0,408.1 77.5,408.0 78.0,407.9 78.5,407.8 79.0,407.7 79.5,407.6 80.0,407.5 80.5,407.4 81.0,407.3 81.5,407.2 82.0,407.1 82.5,407.1 83.0,407.0 83.5,406.9 84.0,406.8 84.8,406.4 86.3,406.6 87.9,405.2 89.5,405.8 91.9,404.6 93.9,405.4 95.9,403.6 97.5,404.8 99.5,402.4 101.3,405.2 103.4,400.8 105.3,404.4 107.3,397.3 108.8,403.6 110.8,386.1 114.5,451.3 116.2,392.1 118.2,400.4 119.7,388.5 121.3,389.7 123.3,382.6 126.1,381.0 127.7,375.1 128.0,374.6 128.5,373.9 129.0,373.1 129.5,372.1 130.0,371.1 130.5,370.0 131.0,369.0 131.5,368.4 132.0,367.8 132.5,367.2 133.0,366.5 133.5,365.5 134.0,364.5 134.5,363.5 135.0,362.7 135.5,362.2 136.0,361.8 136.5,361.4 137.0,360.8 137.5,360.0 138.0,359.2 138.5,358.4 139.0,357.9 139.5,357.7 140.0,357.5 140.5,357.3 141.0,356.9 141.5,356.3 142.0,355.8 142.5,355.3 143.0,355.2 143.5,355.1 144.0,355.1 144.5,355.0 145.0,354.8 145.5,354.6 146.0,354.5 146.5,354.5 147.0,354.5 147.5,354.6 148.0,354.6 148.5,354.7 149.0,354.9 149.5,355.1 150.0,355.3 150.5,355.6 151.0,355.8 151.5,356.2 152.0,356.5 152.5,356.9 153.0,357.3 153.5,357.8 154.0,358.2 154.5,358.7 155.0,359.2 155.5,359.7 156.0,360.3 156.5,360.8 157.0,361.3 157.5,361.9 158.0,362.4 158.5,363.0 159.0,363.6 159.5,364.1 160.0,364.7 160.5,365.3 161.0,365.8 161.5,366.4 162.0,366.9 162.5,367.5 163.0,368.0 163.5,368.6 164.0,369.1 164.5,369.7 165.0,370.2 165.5,370.7 166.0,371.2 166.5,371.7 167.0,372.3 167.5,372.8 168.0,373.3 168.5,373.7 169.0,374.2 169.5,374.7 170.0,375.2 170.5,375.7 171.0,376.1 171.5,376.6 172.0,377.0 172.5,377.5 173.0,377.9 173.5,378.4 174.0,378.8 174.5,379.2 175.0,379.6 175.5,380.0 176.0,380.5 176.5,380.9 177.0,381.2 177.5,381.6 178.0,382.0 178.5,382.4 179.0,382.8 179.5,383.1 180.0,383.5 180.5,383.9 181.0,384.2 181.5,384.5 182.0,384.9 182.5,385.2 183.0,385.6 183.5,385.9 184.0,386.2 184.5,386.5 185.0,386.8 185.5,387.1 186.0,387.4 186.5,387.7 187.0,388.0 187.5,388.3 188.0,388.6 188.5,388.9 189.0,389.1 189.5,389.4 190.0,389.7 190.5,389.9 191.0,390.2 191.5,390.4 192.0,390.7 192.5,390.9 193.0,391.2 193.5,391.4 194.0,391.6 194.5,391.9 195.0,392.1 195.5,392.3 196.0,392.5 196.5,392.7 197.0,392.9 197.5,393.1 198.0,393.3 198.5,393.5 199.0,393.7 199.5,393.9 200.0,394.1 200.5,394.3 201.0,394.5 201.5,394.6 202.0,394.8 202.5,395.0 203.0,395.1 203.5,395.3 204.0,395.5 204.5,395.6 205.0,395.8 205.5,395.9 206.0,396.1 206.5,396.2 207.0,396.3 207.5,396.5 208.0,396.6 208.5,396.8 209.0,396.9 209.5,397.0 210.0,397.1 210.5,397.3 211.0,397.4 211.5,397.5 212.0,397.6 212.5,397.7 213.0,397.8 213.5,398.0 214.0,398.1 214.5,398.2 215.0,398.3 215.5,398.4 216.0,398.5 216.5,398.6 217.0,398.7 217.5,398.8 218.0,398.8 218.5,398.9 219.0,399.0 219.5,399.1 220.0,399.2 220.5,399.3 221.0,399.4 221.5,399.4 222.0,399.5 222.5,399.6 223.0,399.7 223.5,399.7 224.0,399.8 224.5,399.9 225.0,400.0 225.5,400.0 226.0,400.1 226.5,400.2 227.0,400.2 227.5,400.3 228.0,400.4 228.5,400.4 229.0,400.5 229.5,400.5 230.0,400.6 230.5,400.7 231.0,400.7 231.5,400.8 232.0,400.8 232.5,400.9 233.0,401.0 233.5,401.0 234.0,401.1 234.5,401.1 235.0,401.2 235.5,401.2 236.0,401.3 236.5,401.4 237.0,401.4 237.5,401.5 238.0,401.5 238.5,401.6 239.0,401.6 239.5,401.7 240.0,401.7 240.5,401.8 241.0,401.8 241.5,401.9 242.0,401.9 242.5,402.0 243.0,402.0 243.5,402.1 244.0,402.1 244.5,402.2 245.0,402.2 245.5,402.3 246.0,402.3 246.5,402.4 247.0,402.4 247.5,402.5 248.0,402.5 248.5,402.6 249.0,402.6 249.5,402.7 250.0,402.7 250.5,402.8 251.0,402.8 251.5,402.8 252.0,402.9 252.5,402.9 253.0,403.0 253.5,403.0 254.0,403.1 254.5,403.1 255.0,403.1 255.5,403.2 256.0,403.2 256.5,403.3 257.0,403.3 257.5,403.3 258.0,403.4 258.5,403.4 259.0,403.5 259.5,403.5 260.0,403.5 260.5,403.6 261.0,403.6 261.5,403.7 262.0,403.7 262.5,403.7 263.0,403.8 263.5,403.8 264.0,403.8 264.5,403.9 265.0,403.9 265.5,403.9 266.0,404.0 266.5,404.0 267.0,404.0 267.5,404.1 268.0,404.1 268.5,404.1 269.0,404.2 269.5,404.2 270.0,404.2 270.5,404.3 271.0,404.3 271.5,404.3 272.0,404.4 272.5,404.4 273.0,404.4 273.5,404.5 274.0,404.5 274.5,404.5 275.0,404.6 275.5,404.6 276.0,404.6 276.5,404.6 277.0,404.7 277.5,404.7 278.0,404.7 278.5,404.7 279.0,404.8 279.5,404.8 280.0,404.8 280.5,404.9 281.0,404.9 281.5,404.9 282.0,404.9 282.5,405.0 283.0,405.0 283.5,405.0 284.0,405.0 284.5,405.1 285.0,405.1 285.5,405.1 286.0,405.1 286.5,405.2 287.0,405.2 287.5,405.2 288.0,405.2 288.5,405.2 289.0,405.3 289.5,405.3 290.0,405.3 290.5,405.3 291.0,405.3 291.5,405.4 292.0,405.4 292.5,405.4 293.0,405.4 293.5,405.5 294.0,405.5 294.5,405.5 295.0,405.5 295.5,405.5 296.0,405.5 296.5,405.6 297.0,405.6 297.5,405.6 298.0,405.6 298.5,405.6 299.0,405.7 299.5,405.7 300.0,405.7 300.5,405.7 301.0,405.7 301.5,405.7 302.0,405.8 302.5,405.8 303.0,405.8 303.5,405.8 304.0,405.8 304.5,405.8 305.0,405.8 305.5,405.9 306.0,405.9 306.5,405.9 307.0,405.9 307.5,405.9 308.0,405.9 308.5,405.9 309.0,406.0 309.5,406.0 310.0,406.0 310.2,406.0" fill="none" stroke="#D95319" stroke-width="1.3" stroke-linejoin="round"/>
<polyline points="33.0,364.9 33.5,364.9 34.0,364.9 34.5,364.8 35.0,364.8 35.5,364.8 36.0,364.8 36.5,364.7 37.0,364.7 37.5,364.7 38.0,364.7 38.5,364.6 39.0,364.6 39.5,364.6 40.0,364.6 40.5,364.6 41.0,364.6 41.5,364.5 42.0,364.5 42.5,364.5 43.0,364.5 43.5,364.5 44.0,364.5 44.5,364.5 45.0,364.4 45.5,364.4 46.0,364.4 46.5,364.4 47.0,364.4 47.5,364.4 48.0,364.4 48.5,364.4 49.0,364.4 49.5,364.4 50.0,364.4 50.5,364.3 51.0,364.3 51.5,364.3 52.0,364.3 52.5,364.3 53.0,364.3 53.5,364.3 54.0,364.3 54.5,364.3 55.0,364.3 55.5,364.3 56.0,364.3 56.5,364.3 57.0,364.3 57.5,364.3 58.0,364.2 58.5,364.2 59.0,364.2 59.5,364.2 60.0,364.2 60.5,364.2 61.0,364.2 61.5,364.2 62.0,364.2 62.5,364.2 63.0,364.1 63.5,364.1 64.0,364.1 64.5,364.1 65.0,364.1 65.5,364.1 66.0,364.1 66.5,364.0 67.0,364.0 67.5,364.0 68.0,364.0 68.5,364.0 69.0,363.9 69.5,363.9 70.0,363.9 70.5,363.9 71.0,363.8 71.5,363.8 72.0,363.8 72.5,363.8 73.0,363.7 73.5,363.7 74.0,363.7 74.5,363.6 75.0,363.6 75.5,363.6 76.0,363.5 76.5,363.5 77.0,363.4 77.5,363.4 78.0,363.3 78.5,363.3 79.0,363.3 79.5,363.2 80.0,363.2 80.5,363.1 81.0,363.1 81.5,363.0 82.0,362.9 82.5,362.9 83.0,362.8 83.5,362.8 84.0,362.7 84.5,362.6 85.0,362.6 85.5,362.5 86.0,362.4 86.5,362.3 87.0,362.3 87.5,362.2 88.0,362.1 88.5,362.0 89.0,361.9 89.5,361.9 90.0,361.8 90.5,361.7 91.0,361.6 91.5,361.5 92.0,361.4 92.5,361.3 93.0,361.2 93.5,361.1 94.0,361.0 94.5,360.9 95.0,360.7 95.5,360.6 96.0,360.5 96.5,360.3 97.0,360.3 97.5,360.3 98.0,360.3 98.5,360.0 99.0,359.7 99.5,359.4 100.0,359.1 100.5,359.2 101.0,359.2 101.5,359.3 102.0,359.3 102.5,358.9 103.0,358.5 103.5,358.0 104.0,357.8 104.5,357.9 105.0,358.0 105.5,358.1 106.0,357.9 106.5,357.5 107.0,357.0 107.5,356.4 108.0,356.3 108.5,356.4 109.0,356.5 109.5,356.6 110.0,356.3 110.5,355.7 111.0,355.1 111.5,354.5 112.0,354.4 112.5,354.5 113.0,354.6 113.5,354.7 114.0,354.1 114.5,353.4 115.0,352.8 115.5,352.1 116.0,352.1 116.5,352.2 117.0,352.2 117.5,352.1 118.0,351.4 118.5,350.6 119.0,349.9 119.5,349.3 120.0,349.2 120.5,349.2 121.0,349.1 121.5,348.8 122.0,348.0 122.5,347.2 123.0,346.3 123.5,345.8 124.0,345.6 124.5,345.4 125.0,345.2 125.5,344.7 126.0,343.8 126.5,342.9 127.0,342.0 127.5,341.4 128.0,341.0 128.5,340.7 129.0,340.2 129.5,339.4 130.0,338.3 130.5,337.2 131.0,336.1 131.5,335.4 132.0,334.8 132.5,334.0 133.0,333.2 133.5,332.0 134.0,330.7 134.5,329.4 135.0,328.1 135.5,327.0 136.0,325.9 136.5,324.7 137.0,323.4 137.5,321.8 138.0,320.2 138.5,318.7 139.0,317.1 140.4,307.7 141.7,290.6 142.7,265.8 143.6,319.1 144.5,357.5 146.1,328.7 148.0,322.8 148.5,323.1 149.0,323.2 149.5,323.1 150.0,322.9 150.5,322.6 151.0,322.3 151.5,322.0 152.0,321.7 152.5,321.5 153.0,321.3 153.5,321.3 154.0,321.3 154.5,321.5 155.0,321.7 155.5,322.0 156.0,322.4 156.5,322.8 157.0,323.3 157.5,324.0 158.0,324.7 158.5,325.2 159.0,325.7 159.5,326.2 160.0,326.7 160.5,327.6 161.0,328.5 161.5,329.4 162.0,330.1 162.5,330.5 163.0,330.9 163.5,331.2 164.0,331.8 164.5,332.6 165.0,333.4 165.5,334.3 166.0,334.8 166.5,335.0 167.0,335.2 167.5,335.4 168.0,335.9 168.5,336.7 169.0,337.5 169.5,338.2 170.0,338.5 170.5,338.6 171.0,338.7 171.5,338.7 172.0,339.3 172.5,340.0 173.0,340.8 173.5,341.5 174.0,341.5 174.5,341.5 175.0,341.4 175.5,341.4 176.0,342.1 176.5,342.7 177.0,343.4 177.5,344.0 178.0,343.9 178.5,343.8 179.0,343.7 179.5,343.7 180.0,344.3 180.5,345.0 181.0,345.6 181.5,346.0 182.0,345.8 182.5,345.7 183.0,345.5 183.5,345.6 184.0,346.2 184.5,346.8 185.0,347.5 185.5,347.7 186.0,347.5 186.5,347.2 187.0,347.0 187.5,347.3 188.0,347.9 188.5,348.5 189.0,349.1 189.5,349.1 190.0,348.9 190.5,348.7 191.0,348.4 191.5,348.9 192.0,349.4 192.5,350.0 193.0,350.6 193.5,350.4 194.0,350.2 194.5,350.0 195.0,349.8 195.5,350.3 196.0,350.8 196.5,351.4 197.0,351.8 197.5,351.6 198.0,351.4 198.5,351.2 199.0,351.1 199.5,351.6 200.0,352.1 200.5,352.6 201.0,352.9 201.5,352.7 202.0,352.5 202.5,352.3 203.0,352.4 203.5,352.8 204.0,353.3 204.5,353.7 205.0,353.8 205.5,353.6 206.0,353.5 206.5,353.3 207.0,353.5 207.5,353.9 208.0,354.3 208.5,354.6 209.0,354.6 209.5,354.5 210.0,354.4 210.5,354.3 211.0,354.6 211.5,354.9 212.0,355.1 212.5,355.4 213.0,355.3 213.5,355.3 214.0,355.3 214.5,355.4 215.0,355.6 215.5,355.7 216.0,355.8 216.5,355.9 217.0,356.0 217.5,356.1 218.0,356.1 218.5,356.2 219.0,356.3 219.5,356.4 220.0,356.5 220.5,356.6 221.0,356.6 221.5,356.7 222.0,356.8 222.5,356.9 223.0,356.9 223.5,357.0 224.0,357.1 224.5,357.2 225.0,357.2 225.5,357.3 226.0,357.4 226.5,357.4 227.0,357.5 227.5,357.6 228.0,357.6 228.5,357.7 229.0,357.8 229.5,357.8 230.0,357.9 230.5,357.9 231.0,358.0 231.5,358.0 232.0,358.1 232.5,358.1 233.0,358.2 233.5,358.2 234.0,358.3 234.5,358.3 235.0,358.4 235.5,358.4 236.0,358.5 236.5,358.5 237.0,358.6 237.5,358.6 238.0,358.7 238.5,358.7 239.0,358.7 239.5,358.8 240.0,358.8 240.5,358.9 241.0,358.9 241.5,358.9 242.0,359.0 242.5,359.0 243.0,359.0 243.5,359.1 244.0,359.1 244.5,359.1 245.0,359.2 245.5,359.2 246.0,359.2 246.5,359.3 247.0,359.3 247.5,359.3 248.0,359.3 248.5,359.4 249.0,359.4 249.5,359.4 250.0,359.5 250.5,359.5 251.0,359.5 251.5,359.5 252.0,359.5 252.5,359.6 253.0,359.6 253.5,359.6 254.0,359.6 254.5,359.6 255.0,359.7 255.5,359.7 256.0,359.7 256.5,359.7 257.0,359.7 257.5,359.8 258.0,359.8 258.5,359.8 259.0,359.8 259.5,359.8 260.0,359.8 260.5,359.8 261.0,359.9 261.5,359.9 262.0,359.9 262.5,359.9 263.0,359.9 263.5,359.9 264.0,359.9 264.5,360.0 265.0,360.0 265.5,360.0 266.0,360.0 266.5,360.0 267.0,360.0 267.5,360.0 268.0,360.0 268.5,360.0 269.0,360.1 269.5,360.1 270.0,360.1 270.5,360.1 271.0,360.1 271.5,360.1 272.0,360.1 272.5,360.1 273.0,360.1 273.5,360.1 274.0,360.1 274.5,360.2 275.0,360.2 275.5,360.2 276.0,360.2 276.5,360.2 277.0,360.2 277.5,360.2 278.0,360.2 278.5,360.2 279.0,360.2 279.5,360.2 280.0,360.3 280.5,360.3 281.0,360.3 281.5,360.3 282.0,360.3 282.5,360.3 283.0,360.3 283.5,360.3 284.0,360.3 284.5,360.4 285.0,360.4 285.5,360.4 286.0,360.4 286.5,360.4 287.0,360.4 287.5,360.4 288.0,360.4 288.5,360.5 289.0,360.5 289.5,360.5 290.0,360.5 290.5,360.5 291.0,360.5 291.5,360.5 292.0,360.6 292.5,360.6 293.0,360.6 293.5,360.6 294.0,360.6 294.5,360.6 295.0,360.7 295.5,360.7 296.0,360.7 296.5,360.7 297.0,360.7 297.5,360.8 298.0,360.8 298.5,360.8 299.0,360.8 299.5,360.8 300.0,360.9 300.5,360.9 301.0,360.9 301.5,360.9 302.0,361.0 302.5,361.0 303.0,361.0 303.5,361.0 304.0,361.1 304.5,361.1 305.0,361.1 305.5,361.2 306.0,361.2 306.5,361.2 307.0,361.3 307.5,361.3 308.0,361.3 308.5,361.4 309.0,361.4 309.5,361.4 310.0,361.5 310.2,361.5" fill="none" stroke="#EDB120" stroke-width="1.2" stroke-linejoin="round"/>
<polyline points="33.0,421.5 33.5,421.4 34.0,421.4 34.5,421.4 35.0,421.4 35.5,421.3 36.0,421.3 36.5,421.3 37.0,421.3 37.5,421.3 38.0,421.2 38.5,421.2 39.0,421.2 39.5,421.2 40.0,421.1 40.5,421.1 41.0,421.1 41.5,421.1 42.0,421.1 42.5,421.0 43.0,421.0 43.5,421.0 44.0,421.0 44.5,421.0 45.0,420.9 45.5,420.9 46.0,420.9 46.5,420.9 47.0,420.8 47.5,420.8 48.0,420.8 48.5,420.8 49.0,420.8 49.5,420.7 50.0,420.7 50.5,420.7 51.0,420.7 51.5,420.6 52.0,420.6 52.5,420.6 53.0,420.5 53.5,420.5 54.0,420.5 54.5,420.5 55.0,420.4 55.5,420.4 56.0,420.4 56.5,420.3 57.0,420.3 57.5,420.3 58.0,420.2 58.5,420.2 59.0,420.2 59.5,420.1 60.0,420.1 60.5,420.0 61.0,420.0 61.5,420.0 62.0,419.9 62.5,419.9 63.0,419.8 63.5,419.8 64.0,419.7 64.5,419.7 65.0,419.6 65.5,419.6 66.0,419.5 66.5,419.5 67.0,419.4 67.5,419.4 68.0,419.3 68.5,419.2 69.0,419.2 69.5,419.1 70.0,419.0 70.5,419.0 71.0,418.9 71.5,418.8 72.0,418.8 72.5,418.7 73.0,418.6 73.5,418.6 74.0,418.5 74.5,418.4 75.0,418.3 75.5,418.2 76.0,418.2 76.5,418.1 77.0,418.0 77.5,417.9 78.0,417.8 78.5,417.7 79.0,417.6 79.5,417.5 80.0,417.4 80.5,417.3 81.0,417.2 81.5,417.1 82.0,417.0 82.5,416.9 83.0,416.8 83.5,416.6 84.0,416.5 84.5,416.4 85.0,416.3 85.5,416.2 86.0,416.0 86.5,415.9 87.0,415.8 87.5,415.6 88.0,415.5 88.5,415.4 89.0,415.2 89.5,415.1 90.0,414.9 90.5,414.8 91.0,414.6 91.5,414.5 92.0,414.3 92.5,414.2 93.0,414.0 93.5,413.8 94.0,413.7 94.5,413.5 95.0,413.3 95.5,413.2 96.0,413.0 96.5,412.8 97.0,412.6 97.5,412.4 98.0,412.2 98.5,412.0 99.0,411.8 99.5,411.6 100.0,411.4 100.5,411.2 101.0,411.0 101.5,410.8 102.0,410.6 102.5,410.4 103.0,410.1 103.5,409.9 104.0,409.6 104.5,409.4 105.0,409.1 105.5,408.8 106.0,408.5 106.5,408.2 107.0,407.8 107.5,407.5 108.0,407.1 108.5,406.7 109.0,406.3 109.5,405.9 110.0,405.5 110.5,405.0 111.0,404.5 111.5,404.0 112.0,403.5 112.5,402.9 113.0,402.3 113.5,401.7 114.0,401.1 114.5,400.4 115.0,399.7 115.5,399.0 116.0,398.2 116.5,397.5 117.0,396.7 117.5,395.9 118.0,395.0 118.5,394.2 119.0,393.4 119.5,392.5 120.0,391.6 120.5,390.8 121.0,389.9 121.5,389.0 122.0,388.1 122.5,387.2 123.0,386.4 123.5,385.5 124.0,384.6 124.5,383.7 125.0,382.8 125.5,381.9 126.0,381.1 126.5,380.2 127.0,379.3 127.5,378.5 128.0,377.6 128.5,376.8 129.0,375.9 129.5,375.1 130.0,374.3 130.5,373.5 131.0,372.7 131.5,372.0 132.0,371.2 132.5,370.5 133.0,369.7 133.5,369.0 134.0,368.3 134.5,367.7 135.0,367.0 135.5,366.4 136.0,365.8 136.5,365.2 137.0,364.6 137.5,364.1 138.0,363.5 138.5,363.0 139.0,362.6 139.5,362.2 140.0,361.9 140.5,361.4 141.0,361.0 141.5,360.6 142.0,360.3 142.5,360.1 143.0,360.0 143.5,360.0 144.0,359.7 144.5,359.4 145.0,359.2 145.5,359.2 146.0,359.3 146.5,359.5 147.0,359.7 147.5,359.6 148.0,359.5 148.5,359.4 149.0,359.7 149.5,360.1 150.0,360.5 150.5,360.8 151.0,360.8 151.5,360.8 152.0,360.8 152.5,361.3 153.0,361.9 153.5,362.6 154.0,362.9 154.5,362.9 155.0,362.9 155.5,363.0 156.0,363.8 156.5,364.5 157.0,365.3 157.5,365.5 158.0,365.5 158.5,365.6 159.0,365.9 159.5,366.8 160.0,367.7 160.5,368.6 161.0,368.6 161.5,368.6 162.0,368.6 162.5,369.2 163.0,370.2 163.5,371.2 164.0,372.1 164.5,372.1 165.0,372.0 165.5,372.0 166.0,373.4 166.8,372.5 167.8,375.5 168.8,374.0 170.6,393.6 172.4,343.3 175.5,387.5 177.9,378.9 179.9,388.9 181.0,386.0 182.0,390.0 183.2,388.0 184.0,391.9 184.5,391.7 185.0,393.0 185.5,394.4 186.0,394.6 186.5,394.1 187.0,393.6 187.5,393.5 188.0,394.8 188.5,396.0 189.0,397.2 189.5,397.1 190.0,396.6 190.5,396.1 191.0,396.3 191.5,397.5 192.0,398.6 192.5,399.7 193.0,399.2 193.5,398.7 194.0,398.3 194.5,398.7 195.0,399.7 195.5,400.7 196.0,401.4 196.5,400.9 197.0,400.5 197.5,400.0 198.0,400.7 198.5,401.6 199.0,402.5 199.5,402.8 200.0,402.3 200.5,401.9 201.0,401.4 201.5,402.3 202.0,403.1 202.5,403.9 203.0,403.9 203.5,403.4 204.0,403.0 204.5,402.8 205.0,403.5 205.5,404.3 206.0,405.0 206.5,404.8 207.0,404.3 207.5,403.9 208.0,403.9 208.5,404.6 209.0,405.2 209.5,405.8 210.0,405.4 210.5,405.1 211.0,404.7 211.5,404.9 212.0,405.5 212.5,406.0 213.0,406.4 213.5,406.0 214.0,405.7 214.5,405.3 215.0,405.7 215.5,406.2 216.0,406.7 216.5,406.9 217.0,406.6 217.5,406.3 218.0,406.0 218.5,406.5 219.0,406.9 219.5,407.4 220.0,407.4 220.5,407.1 221.0,406.9 221.5,406.8 222.0,407.2 222.5,407.6 223.0,408.1 223.5,408.0 224.0,407.7 224.5,407.5 225.0,407.6 225.5,408.0 226.0,408.3 226.5,408.7 227.0,408.5 227.5,408.4 228.0,408.2 228.5,408.3 229.0,408.7 229.5,409.0 230.0,409.2 230.5,409.1 231.0,409.0 231.5,408.8 232.0,409.0 232.5,409.3 233.0,409.6 233.5,409.7 234.0,409.6 234.5,409.5 235.0,409.4 235.5,409.7 236.0,409.9 236.5,410.2 237.0,410.2 237.5,410.1 238.0,410.1 238.5,410.0 239.0,410.3 239.5,410.5 240.0,410.2 240.5,410.4 241.0,410.7 241.5,410.9 242.0,410.9 242.5,410.8 243.0,410.7 243.5,410.6 244.0,410.9 244.5,411.2 245.0,411.4 245.5,411.3 246.0,411.2 246.5,411.0 247.0,411.0 247.5,411.3 248.0,411.6 248.5,411.9 249.0,411.7 249.5,411.5 250.0,411.3 250.5,411.4 251.0,411.7 251.5,412.0 252.0,412.2 252.5,412.0 253.0,411.8 253.5,411.5 254.0,411.8 254.5,412.1 255.0,412.4 255.5,412.5 256.0,412.3 256.5,412.0 257.0,411.8 257.5,412.1 258.0,412.4 258.5,412.7 259.0,412.7 259.5,412.5 260.0,412.2 260.5,412.1 261.0,412.4 261.5,412.7 262.0,413.1 262.5,412.9 263.0,412.7 263.5,412.4 264.0,412.4 264.5,412.7 265.0,413.0 265.5,413.3 266.0,413.1 266.5,412.8 267.0,412.6 267.5,412.6 268.0,413.0 268.5,413.3 269.0,413.5 269.5,413.2 270.0,413.0 270.5,412.7 271.0,412.9 271.5,413.2 272.0,413.5 272.5,413.6 273.0,413.4 273.5,413.1 274.0,412.8 274.5,413.1 275.0,413.5 275.5,413.8 276.0,413.7 276.5,413.5 277.0,413.2 277.5,413.1 278.0,413.4 278.5,413.7 279.0,414.0 279.5,413.9 280.0,413.6 280.5,413.3 281.0,413.3 281.5,413.6 282.0,413.9 282.5,414.2 283.0,414.0 283.5,413.7 284.0,413.4 284.5,413.5 285.0,413.8 285.5,414.1 286.0,414.3 286.5,414.1 287.0,413.8 287.5,413.5 288.0,413.7 288.5,414.1 289.0,414.4 289.5,414.5 290.0,414.2 290.5,413.9 291.0,413.7 291.5,414.0 292.0,414.3 292.5,414.6 293.0,414.6 293.5,414.3 294.0,414.0 294.5,413.9 295.0,414.2 295.5,414.5 296.0,414.9 296.5,414.7 297.0,414.5 297.5,414.2 298.0,414.2 298.5,414.5 299.0,414.8 299.5,415.1 300.0,414.9 300.5,414.6 301.0,414.3 301.5,414.4 302.0,414.8 302.5,415.1 303.0,415.3 303.5,415.0 304.0,414.8 304.5,414.5 305.0,414.7 305.5,415.1 306.0,415.4 306.5,415.5 307.0,415.2 307.5,415.0 308.0,414.7 308.5,415.1 309.0,415.4 309.5,415.7 310.0,415.7 310.2,415.4" fill="none" stroke="#B27DC9" stroke-width="1.0" stroke-linejoin="round"/>
<polyline points="33.0,456.2 33.5,456.2 34.0,456.1 34.5,456.1 35.0,456.0 35.5,456.0 36.0,456.0 36.5,455.9 37.0,455.9 37.5,455.9 38.0,455.8 38.5,455.8 39.0,455.8 39.5,455.7 40.0,455.7 40.5,455.7 41.0,455.6 41.5,455.6 42.0,455.6 42.5,455.5 43.0,455.5 43.5,455.5 44.0,455.4 44.5,455.4 45.0,455.3 45.5,455.3 46.0,455.3 46.5,455.2 47.0,455.2 47.5,455.2 48.0,455.1 48.5,455.1 49.0,455.1 49.5,455.0 50.0,455.0 50.5,454.9 51.0,454.9 51.5,454.8 52.0,454.8 52.5,454.8 53.0,454.7 53.5,454.7 54.0,454.6 54.5,454.6 55.0,454.5 55.5,454.5 56.0,454.4 56.5,454.4 57.0,454.3 57.5,454.3 58.0,454.2 58.5,454.2 59.0,454.1 59.5,454.0 60.0,454.0 60.5,453.9 61.0,453.9 61.5,453.8 62.0,453.7 62.5,453.7 63.0,453.6 63.5,453.5 64.0,453.5 64.5,453.4 65.0,453.3 65.5,453.2 66.0,453.2 66.5,453.1 67.0,453.0 67.5,452.9 68.0,452.8 68.5,452.7 69.0,452.6 69.5,452.6 70.0,452.5 70.5,452.4 71.0,452.3 71.5,452.2 72.0,452.1 72.5,452.0 73.0,451.9 73.5,451.7 74.0,451.6 74.5,451.5 75.0,451.4 75.5,451.3 76.0,451.2 76.5,451.0 77.0,450.9 77.5,450.8 78.0,450.7 78.5,450.5 79.0,450.4 79.5,450.3 80.0,450.1 80.5,450.0 81.0,449.8 81.5,449.7 82.0,449.5 82.5,449.4 83.0,449.2 83.5,449.0 84.0,448.9 84.5,448.7 85.0,448.5 85.5,448.3 86.0,448.2 86.5,448.0 87.0,447.8 87.5,447.6 88.0,447.4 88.5,447.1 89.0,446.9 89.5,446.7 90.0,446.5 90.5,446.2 91.0,446.0 91.5,445.8 92.0,445.5 92.5,445.2 93.0,445.0 93.5,444.7 94.0,444.4 94.5,444.1 95.0,443.8 95.5,443.5 96.0,443.2 96.5,442.9 97.0,442.5 97.5,442.2 98.0,441.8 98.5,441.5 99.0,441.1 99.5,440.7 100.0,440.3 100.5,440.0 101.0,439.5 101.5,439.1 102.0,438.7 102.5,438.3 103.0,437.8 103.5,437.4 104.0,436.9 104.5,436.4 105.0,435.9 105.5,435.4 106.0,434.9 106.5,434.4 107.0,433.8 107.5,433.3 108.0,432.7 108.5,432.1 109.0,431.5 109.5,430.9 110.0,430.3 110.5,429.7 111.0,429.1 111.5,428.4 112.0,427.7 112.5,427.1 113.0,426.4 113.5,425.7 114.0,424.9 114.5,424.2 115.0,423.5 115.5,422.7 116.0,422.0 116.5,421.2 117.0,420.4 117.5,419.6 118.0,418.8 118.5,418.0 119.0,417.2 119.5,416.4 120.0,415.6 120.5,414.8 121.0,413.9 121.5,413.1 122.0,412.2 122.5,411.4 123.0,410.5 123.5,409.7 124.0,408.8 124.5,407.9 125.0,407.0 125.5,406.0 126.0,405.1 126.5,404.1 127.0,403.1 127.5,402.1 128.0,401.0 128.5,400.0 129.0,398.9 129.5,397.8 130.0,396.7 130.5,395.6 131.0,394.5 131.5,393.4 132.0,392.4 132.5,391.3 133.0,390.2 133.5,389.2 134.0,388.2 134.5,387.2 135.0,386.3 135.5,385.3 136.0,384.5 136.5,383.6 137.0,382.8 137.5,382.0 138.0,381.2 138.5,380.5 139.0,379.8 139.5,379.2 140.0,378.6 140.5,378.0 141.0,377.5 141.5,377.1 142.0,376.7 142.5,376.4 143.0,376.1 143.5,375.8 144.0,375.6 144.5,375.5 145.0,375.4 145.5,375.3 146.0,375.3 146.5,375.3 147.0,375.4 147.5,375.5 148.0,375.7 148.5,375.9 149.0,376.2 149.5,376.4 150.0,376.8 150.5,377.1 151.0,377.5 151.5,377.9 152.0,378.4 152.5,378.9 153.0,379.4 153.5,379.9 154.0,380.5 154.5,381.0 155.0,381.6 155.5,382.2 156.0,382.8 156.5,383.4 157.0,384.1 157.5,384.7 158.0,385.4 158.5,386.0 159.0,386.7 159.5,387.4 160.0,388.0 160.5,388.7 161.0,389.4 161.5,390.0 162.0,390.7 162.5,391.3 163.0,392.0 163.5,392.6 164.0,393.2 164.5,393.9 165.0,394.5 165.5,395.1 166.0,395.8 166.5,396.4 167.0,397.0 167.5,397.6 168.0,398.3 168.5,398.9 169.0,399.5 169.5,400.1 170.0,400.7 170.5,401.3 171.0,401.8 171.5,402.4 172.0,403.0 172.5,403.6 173.0,404.1 173.5,404.7 174.0,405.3 174.5,405.8 175.0,406.4 175.5,406.9 176.0,407.4 176.5,408.0 177.0,408.5 177.5,409.0 178.0,409.5 178.5,410.0 179.0,410.5 179.5,411.0 180.0,411.5 180.5,412.0 181.0,412.5 181.5,413.0 182.0,413.5 182.5,413.9 183.0,414.4 183.5,414.8 184.0,415.3 184.5,415.7 185.0,416.2 185.5,416.6 186.0,417.0 186.5,417.5 187.0,417.9 187.5,418.3 188.0,418.7 188.5,419.1 189.0,419.5 189.5,419.9 190.0,420.3 190.5,420.7 191.0,421.0 191.5,421.4 192.0,421.8 192.5,422.1 193.0,422.5 193.5,422.8 194.3,423.5 196.2,428.5 197.8,424.5 200.3,451.3 203.8,414.2 205.5,426.3 206.5,424.5 208.0,429.5 209.0,431.3 209.5,431.5 210.0,431.7 210.5,431.9 211.0,432.1 211.5,432.3 212.0,432.5 212.5,432.7 213.0,432.8 213.5,433.0 214.0,433.2 214.5,433.4 215.0,433.5 215.5,433.7 216.0,433.9 216.5,434.0 217.0,434.2 217.5,434.3 218.0,434.5 218.5,434.6 219.0,434.8 219.5,434.9 220.0,435.1 220.5,435.2 221.0,435.4 221.5,435.5 222.0,435.6 222.5,435.8 223.0,435.9 223.5,436.0 224.0,436.1 224.5,436.3 225.0,436.4 225.5,436.5 226.0,436.6 226.5,436.7 227.0,436.9 227.5,437.0 228.0,437.1 228.5,437.2 229.0,437.3 229.5,437.4 230.0,437.5 230.5,437.6 231.0,437.7 231.5,437.8 232.0,437.9 232.5,438.0 233.0,438.1 233.5,438.2 234.0,438.3 234.5,438.4 235.0,438.5 235.5,438.6 236.0,438.7 236.5,438.8 237.0,438.9 237.5,439.0 238.0,439.1 238.5,439.2 239.0,439.2 239.5,439.3 240.0,439.4 240.5,439.5 241.0,439.6 241.5,439.7 242.0,439.8 242.5,439.8 243.0,439.9 243.5,440.0 244.0,440.1 244.5,440.2 245.0,440.3 245.5,440.3 246.0,440.4 246.5,440.5 247.0,440.6 247.5,440.6 248.0,440.7 248.5,440.8 249.0,440.9 249.5,440.9 250.0,441.0 250.5,441.1 251.0,441.1 251.5,441.2 252.0,441.3 252.5,441.3 253.0,441.4 253.5,441.5 254.0,441.5 254.5,441.6 255.0,441.7 255.5,441.7 256.0,441.8 256.5,441.9 257.0,441.9 257.5,442.0 258.0,442.0 258.5,442.1 259.0,442.2 259.5,442.2 260.0,442.3 260.5,442.3 261.0,442.4 261.5,442.5 262.0,442.5 262.5,442.6 263.0,442.6 263.5,442.7 264.0,442.7 264.5,442.8 265.0,442.8 265.5,442.9 266.0,442.9 266.5,443.0 267.0,443.0 267.5,443.1 268.0,443.1 268.5,443.2 269.0,443.2 269.5,443.3 270.0,443.3 270.5,443.4 271.0,443.4 271.5,443.4 272.0,443.5 272.5,443.5 273.0,443.6 273.5,443.6 274.0,443.7 274.5,443.7 275.0,443.7 275.5,443.8 276.0,443.8 276.5,443.9 277.0,443.9 277.5,443.9 278.0,444.0 278.5,444.0 279.0,444.1 279.5,444.1 280.0,444.1 280.5,444.2 281.0,444.2 281.5,444.2 282.0,444.3 282.5,444.3 283.0,444.3 283.5,444.4 284.0,444.4 284.5,444.4 285.0,444.5 285.5,444.5 286.0,444.5 286.5,444.6 287.0,444.6 287.5,444.6 288.0,444.7 288.5,444.7 289.0,444.7 289.5,444.7 290.0,444.8 290.5,444.8 291.0,444.8 291.5,444.9 292.0,444.9 292.5,444.9 293.0,444.9 293.5,445.0 294.0,445.0 294.5,445.0 295.0,445.0 295.5,445.1 296.0,445.1 296.5,445.1 297.0,445.1 297.5,445.2 298.0,445.2 298.5,445.2 299.0,445.2 299.5,445.3 300.0,445.3 300.5,445.3 301.0,445.3 301.5,445.4 302.0,445.4 302.5,445.4 303.0,445.4 303.5,445.4 304.0,445.5 304.5,445.5 305.0,445.5 305.5,445.5 306.0,445.5 306.5,445.6 307.0,445.6 307.5,445.6 308.0,445.6 308.5,445.6 309.0,445.7 309.5,445.7 310.0,445.7 310.2,445.7" fill="none" stroke="#1E961E" stroke-width="1.3" stroke-linejoin="round" stroke-dasharray="3,2.6"/>
</g>
<rect x="263.7" y="270.3" width="41.50" height="56.60" fill="#fff" stroke="#8a8a8a" stroke-width="1"/>
<line x1="265.3" y1="276" x2="279.8" y2="276" stroke="#0072BD" stroke-width="1.35"/>
<text x="281.2" y="277.8" class="lg li">f<tspan dy="2.6" class="sb">b</tspan><tspan dy="-2.6" dx="0.3">=0.8f</tspan><tspan dy="2.6" class="sb">1</tspan></text>
<line x1="265.3" y1="287.7" x2="279.8" y2="287.7" stroke="#D95319" stroke-width="1.35"/>
<text x="281.2" y="289.5" class="lg li">f<tspan dy="2.6" class="sb">b</tspan><tspan dy="-2.6" dx="0.3">=0.9f</tspan><tspan dy="2.6" class="sb">1</tspan></text>
<line x1="265.3" y1="299" x2="279.8" y2="299" stroke="#EDB120" stroke-width="1.35"/>
<text x="281.2" y="300.8" class="lg li">f<tspan dy="2.6" class="sb">b</tspan><tspan dy="-2.6" dx="0.3">=f</tspan><tspan dy="2.6" class="sb">1</tspan></text>
<line x1="265.3" y1="309.7" x2="279.8" y2="309.7" stroke="#B27DC9" stroke-width="1.0"/>
<text x="281.2" y="311.5" class="lg li">f<tspan dy="2.6" class="sb">b</tspan><tspan dy="-2.6" dx="0.3">=1.1f</tspan><tspan dy="2.6" class="sb">1</tspan></text>
<line x1="265.3" y1="321.5" x2="279.8" y2="321.5" stroke="#1E961E" stroke-width="1.5" stroke-dasharray="3,2.7"/>
<text x="281.2" y="323.3" class="lg li">f<tspan dy="2.6" class="sb">b</tspan><tspan dy="-2.6" dx="0.3">=1.2f</tspan><tspan dy="2.6" class="sb">1</tspan></text>
<rect x="345.6" y="265.4" width="278.90" height="216.90" fill="none" stroke="#8a8a8a" stroke-width="1"/>
<path d="M345.60 482.3V479.8M345.60 265.4V267.9" stroke="#8a8a8a" stroke-width="1"/>
<text x="345.60" y="492.00" text-anchor="middle" class="tk">1</text>
<path d="M438.57 482.3V479.8M438.57 265.4V267.9" stroke="#8a8a8a" stroke-width="1"/>
<text x="438.57" y="492.00" text-anchor="middle" class="tk">1.5</text>
<path d="M531.53 482.3V479.8M531.53 265.4V267.9" stroke="#8a8a8a" stroke-width="1"/>
<text x="531.53" y="492.00" text-anchor="middle" class="tk">2</text>
<path d="M624.50 482.3V479.8M624.50 265.4V267.9" stroke="#8a8a8a" stroke-width="1"/>
<text x="624.50" y="492.00" text-anchor="middle" class="tk">2.5</text>
<path d="M345.6 482.30H348.1M624.5 482.30H622.0" stroke="#8a8a8a" stroke-width="1"/>
<text x="343.10" y="485.50" text-anchor="end" class="tk">0.01</text>
<path d="M345.6 455.19H348.1M624.5 455.19H622.0" stroke="#8a8a8a" stroke-width="1"/>
<text x="343.10" y="458.39" text-anchor="end" class="tk">0.02</text>
<path d="M345.6 428.08H348.1M624.5 428.08H622.0" stroke="#8a8a8a" stroke-width="1"/>
<text x="343.10" y="431.28" text-anchor="end" class="tk">0.03</text>
<path d="M345.6 400.96H348.1M624.5 400.96H622.0" stroke="#8a8a8a" stroke-width="1"/>
<text x="343.10" y="404.16" text-anchor="end" class="tk">0.04</text>
<path d="M345.6 373.85H348.1M624.5 373.85H622.0" stroke="#8a8a8a" stroke-width="1"/>
<text x="343.10" y="377.05" text-anchor="end" class="tk">0.05</text>
<path d="M345.6 346.74H348.1M624.5 346.74H622.0" stroke="#8a8a8a" stroke-width="1"/>
<text x="343.10" y="349.94" text-anchor="end" class="tk">0.06</text>
<path d="M345.6 319.62H348.1M624.5 319.62H622.0" stroke="#8a8a8a" stroke-width="1"/>
<text x="343.10" y="322.82" text-anchor="end" class="tk">0.07</text>
<path d="M345.6 292.51H348.1M624.5 292.51H622.0" stroke="#8a8a8a" stroke-width="1"/>
<text x="343.10" y="295.71" text-anchor="end" class="tk">0.08</text>
<path d="M345.6 265.40H348.1M624.5 265.40H622.0" stroke="#8a8a8a" stroke-width="1"/>
<text x="343.10" y="268.60" text-anchor="end" class="tk">0.09</text>
<g clip-path="url(#cd)">
<polyline points="345.6,437.5 346.1,437.5 346.6,437.5 347.1,437.5 347.6,437.5 348.1,437.5 348.6,437.5 349.1,437.5 349.6,437.5 350.1,437.5 350.6,437.5 351.1,437.5 351.6,437.5 352.1,437.6 352.6,437.6 353.1,437.6 353.6,437.6 354.1,437.6 354.6,437.6 355.1,437.6 355.6,437.6 356.1,437.6 356.6,437.6 357.1,437.7 357.6,437.7 358.1,437.7 358.6,437.7 359.1,437.7 359.6,437.7 360.1,437.7 360.6,437.7 361.1,437.7 361.6,437.8 362.1,437.8 362.6,437.8 363.1,437.8 363.6,437.8 364.1,437.8 364.6,437.8 365.1,437.8 365.6,437.8 366.1,437.8 366.6,437.9 367.1,437.9 367.6,437.9 368.1,437.9 368.6,437.9 369.1,437.9 369.6,437.9 370.1,437.9 370.6,437.9 371.1,437.9 371.6,437.9 372.1,437.9 372.6,437.9 373.1,437.9 373.6,437.9 374.1,437.9 374.6,437.9 375.1,437.9 375.6,437.9 376.1,437.9 376.6,437.9 377.1,437.8 377.6,437.8 378.1,437.8 378.6,437.8 379.1,437.8 379.6,437.8 380.1,437.7 380.6,437.7 381.1,437.7 381.6,437.7 382.1,437.7 382.6,437.6 383.1,437.6 383.6,437.6 384.1,437.5 384.6,437.5 385.1,437.5 385.6,437.4 386.1,437.4 386.6,437.3 387.1,437.3 387.6,437.3 388.1,437.2 388.6,437.2 389.1,437.1 389.6,437.0 390.1,437.0 390.6,436.9 391.1,436.9 391.6,436.8 392.1,436.7 392.5,436.7 393.5,438.5 395.6,451.5 399.8,431.7 401.4,436.9 403.0,434.9 403.1,434.8 403.6,434.8 404.1,434.9 404.6,435.1 405.1,435.3 405.6,435.0 406.1,434.6 406.6,434.2 407.1,434.0 407.6,434.4 408.1,434.7 408.6,435.1 409.1,435.1 409.6,434.5 410.1,433.9 410.6,433.3 411.1,433.3 411.6,433.6 412.1,434.0 412.6,434.4 413.1,434.0 413.6,433.3 414.1,432.7 414.6,432.0 415.1,432.1 415.6,432.4 416.1,432.7 416.6,433.0 417.1,432.4 417.6,431.7 418.1,431.1 418.6,430.6 419.1,430.8 419.6,430.9 420.1,431.0 420.6,430.9 421.1,430.4 421.6,430.0 422.1,429.8 422.6,429.5 423.1,429.3 423.6,429.1 424.1,428.8 424.6,428.6 425.1,428.3 425.6,428.1 426.1,427.8 426.6,427.6 427.1,427.3 427.6,427.1 428.1,426.8 428.6,426.5 429.1,426.2 429.6,426.0 430.1,425.7 430.6,425.4 431.1,425.1 431.6,424.8 432.1,424.5 432.6,424.2 433.1,424.0 433.6,423.6 434.1,423.3 434.6,423.0 435.1,422.7 435.6,422.4 436.1,422.1 436.6,421.8 437.1,421.5 437.6,421.1 438.1,420.8 438.6,420.5 439.1,420.1 439.6,419.8 440.1,419.4 440.6,419.1 441.1,418.8 441.6,418.4 442.1,418.1 442.6,417.7 443.1,417.3 443.6,417.0 444.1,416.6 444.6,416.2 445.1,415.9 445.6,415.5 446.1,415.1 446.6,414.8 447.1,414.4 447.6,414.0 448.1,413.6 448.6,413.2 449.1,412.8 449.6,412.4 450.1,412.1 450.6,411.7 451.1,411.3 451.6,410.9 452.1,410.5 452.6,410.1 453.1,409.7 453.6,409.4 454.1,409.0 454.6,408.7 455.1,408.4 455.6,408.1 456.1,407.8 456.6,407.5 457.1,407.3 457.6,407.1 458.1,406.9 458.6,406.8 459.1,406.7 459.6,406.6 460.1,406.5 460.6,406.5 461.1,406.6 461.6,406.6 462.1,406.7 462.6,406.8 463.1,407.0 463.6,407.1 464.1,407.3 464.6,407.5 465.1,407.7 465.6,407.9 466.1,408.1 466.6,408.4 467.1,408.6 467.6,408.8 468.1,409.1 468.6,409.3 469.1,409.6 469.6,409.8 470.1,410.1 470.6,410.4 471.1,410.7 471.6,410.9 472.1,411.2 472.6,411.5 473.1,411.8 473.6,412.1 474.1,412.4 474.6,412.7 475.1,413.0 475.6,413.3 476.1,413.7 476.6,414.0 477.1,414.3 477.6,414.6 478.1,414.9 478.6,415.2 479.1,415.6 479.6,415.9 480.1,416.2 480.6,416.5 481.1,416.8 481.6,417.1 482.1,417.5 482.6,417.8 483.1,418.1 483.6,418.4 484.1,418.7 484.6,419.0 485.1,419.3 485.6,419.6 486.1,419.9 486.6,420.2 487.1,420.5 487.6,420.7 488.1,421.0 488.6,421.3 489.1,421.5 489.6,421.8 490.1,422.1 490.6,422.3 491.1,422.5 491.6,422.8 492.1,423.0 492.6,423.3 493.1,423.5 493.6,423.7 494.1,423.9 494.6,424.1 495.1,424.3 495.6,424.5 496.1,424.7 496.6,424.9 497.1,425.1 497.6,425.3 498.1,425.5 498.6,425.7 499.1,425.9 499.6,426.0 500.1,426.2 500.6,426.4 501.1,426.5 501.6,426.7 502.1,426.8 502.6,427.0 503.1,427.1 503.6,427.3 504.1,427.4 504.6,427.6 505.1,427.7 505.6,427.8 506.1,428.0 506.6,428.1 507.1,428.2 507.6,428.3 508.1,428.4 508.6,428.6 509.1,428.7 509.6,428.8 510.1,428.9 510.6,429.0 511.1,429.1 511.6,429.2 512.1,429.3 512.6,429.4 513.1,429.5 513.6,429.5 514.1,429.6 514.6,429.7 515.1,429.8 515.6,429.9 516.1,429.9 516.6,430.0 517.1,430.1 517.6,430.2 518.1,430.2 518.6,430.3 519.1,430.4 519.6,430.4 520.1,430.5 520.6,430.5 521.1,430.6 521.6,430.6 522.1,430.7 522.6,430.8 523.1,430.8 523.6,430.9 524.1,430.9 524.6,430.9 525.1,431.0 525.6,431.0 526.1,431.1 526.6,431.1 527.1,431.2 527.6,431.2 528.1,431.2 528.6,431.3 529.1,431.3 529.6,431.4 530.1,431.4 530.6,431.4 531.1,431.5 531.6,431.5 532.1,431.5 532.6,431.6 533.1,431.6 533.6,431.6 534.1,431.7 534.6,431.7 535.1,431.7 535.6,431.7 536.1,431.8 536.6,431.8 537.1,431.8 537.6,431.9 538.1,431.9 538.6,431.9 539.1,432.0 539.6,432.0 540.1,432.0 540.6,432.0 541.1,432.1 541.6,432.1 542.1,432.1 542.6,432.2 543.1,432.2 543.6,432.2 544.1,432.3 544.6,432.3 545.1,432.3 545.6,432.4 546.1,432.4 546.6,432.4 547.1,432.5 547.6,432.5 548.1,432.5 548.6,432.6 549.1,432.6 549.6,432.6 550.1,432.7 550.6,432.7 551.1,432.8 551.6,432.8 552.1,432.8 552.6,432.9 553.1,432.9 553.6,432.9 554.1,433.0 554.6,433.0 555.1,433.0 555.6,433.1 556.1,433.1 556.6,433.1 557.1,433.2 557.6,433.2 558.1,433.3 558.6,433.3 559.1,433.3 559.6,433.4 560.1,433.4 560.6,433.4 561.1,433.5 561.6,433.5 562.1,433.5 562.6,433.6 563.1,433.6 563.6,433.6 564.1,433.7 564.6,433.7 565.1,433.8 565.6,433.8 566.1,433.8 566.6,433.9 567.1,433.9 567.6,433.9 568.1,434.0 568.6,434.0 569.1,434.0 569.6,434.1 570.1,434.1 570.6,434.1 571.1,434.2 571.6,434.2 572.1,434.2 572.6,434.3 573.1,434.3 573.6,434.3 574.1,434.4 574.6,434.4 575.1,434.4 575.6,434.5 576.1,434.5 576.6,434.5 577.1,434.6 577.6,434.6 578.1,434.6 578.6,434.7 579.1,434.7 579.6,434.7 580.1,434.8 580.6,434.8 581.1,434.8 581.6,434.8 582.1,434.9 582.6,434.9 583.1,434.9 583.6,435.0 584.1,435.0 584.6,435.0 585.1,435.0 585.6,435.1 586.1,435.1 586.6,435.1 587.1,435.1 587.6,435.2 588.1,435.2 588.6,435.2 589.1,435.2 589.6,435.3 590.1,435.3 590.6,435.3 591.1,435.3 591.6,435.3 592.1,435.4 592.6,435.4 593.1,435.4 593.6,435.4 594.1,435.4 594.6,435.5 595.1,435.5 595.6,435.5 596.1,435.5 596.6,435.5 597.1,435.5 597.6,435.6 598.1,435.6 598.6,435.6 599.1,435.6 599.6,435.6 600.1,435.6 600.6,435.6 601.1,435.7 601.6,435.7 602.1,435.7 602.6,435.7 603.1,435.7 603.6,435.7 604.1,435.7 604.6,435.7 605.1,435.7 605.6,435.7 606.1,435.7 606.6,435.7 607.1,435.7 607.6,435.7 608.1,435.7 608.6,435.7 609.1,435.7 609.6,435.7 610.1,435.7 610.6,435.7 611.1,435.7 611.6,435.7 612.1,435.7 612.6,435.7 613.1,435.7 613.6,435.7 614.1,435.7 614.6,435.7 615.1,435.7 615.6,435.7 616.1,435.7 616.6,435.7 617.1,435.7 617.6,435.6 618.1,435.6 618.6,435.6 619.1,435.6 619.6,435.6 620.1,435.6 620.6,435.6 621.1,435.5 621.6,435.5 622.1,435.5 622.6,435.5 623.1,435.5 623.6,435.4 624.1,435.4 624.5,435.4" fill="none" stroke="#0072BD" stroke-width="1.3" stroke-linejoin="round"/>
<polyline points="345.6,397.0 346.1,396.9 346.6,396.9 347.1,396.8 347.6,396.8 348.1,396.8 348.6,396.7 349.1,396.7 349.6,396.6 350.1,396.6 350.6,396.6 351.1,396.5 351.6,396.5 352.1,396.4 352.6,396.4 353.1,396.4 353.6,396.4 354.1,396.3 354.6,396.3 355.1,396.3 355.6,396.3 356.1,396.2 356.6,396.2 357.1,396.2 357.6,396.2 358.1,396.2 358.6,396.2 359.1,396.1 359.6,396.1 360.1,396.1 360.6,396.1 361.1,396.1 361.6,396.1 362.1,396.1 362.6,396.1 363.1,396.1 363.6,396.1 364.1,396.1 364.6,396.1 365.1,396.1 365.6,396.1 366.1,396.1 366.6,396.1 367.1,396.1 367.6,396.1 368.1,396.1 368.6,396.1 369.1,396.1 369.6,396.1 370.1,396.1 370.6,396.1 371.1,396.1 371.6,396.1 372.1,396.1 372.6,396.1 373.1,396.1 373.6,396.1 374.1,396.1 374.6,396.1 375.1,396.1 375.6,396.1 376.1,396.1 376.6,396.1 377.1,396.1 377.6,396.1 378.1,396.1 378.6,396.1 379.1,396.2 379.6,396.2 380.1,396.2 380.6,396.2 381.1,396.2 381.6,396.2 382.1,396.2 382.6,396.2 383.1,396.2 383.6,396.2 384.1,396.2 384.6,396.2 385.1,396.2 385.6,396.2 386.1,396.2 386.6,396.2 387.1,396.2 387.6,396.2 388.1,396.2 388.6,396.2 389.1,396.2 389.6,396.1 390.1,396.1 390.6,396.1 391.1,396.1 391.6,396.1 392.1,396.1 392.6,396.1 393.1,396.1 393.6,396.1 394.1,396.0 394.6,396.0 395.1,396.0 395.6,396.0 396.1,396.0 396.6,395.9 397.1,395.9 397.6,395.9 398.1,395.9 398.6,395.8 399.1,395.8 399.6,395.8 400.1,395.7 400.6,395.7 401.1,395.7 401.6,395.6 402.1,395.6 402.6,395.6 403.1,395.5 403.6,395.5 404.1,395.4 404.6,395.4 405.0,395.3 407.0,394.5 409.1,394.4 411.4,396.0 413.7,394.1 416.0,396.5 417.7,394.0 419.4,397.2 420.5,392.3 422.0,397.4 424.0,386.0 425.7,400.0 427.6,425.9 429.7,391.7 431.0,397.4 432.5,390.5 434.2,392.8 436.0,388.8 437.7,390.5 439.4,387.1 441.1,388.3 443.0,385.0 444.0,383.4 444.1,383.3 444.6,383.1 445.1,382.9 445.6,382.9 446.1,382.8 446.6,382.3 447.1,381.8 447.6,381.3 448.1,381.0 448.6,381.0 449.1,381.1 449.6,381.1 450.1,380.9 450.6,380.3 451.1,379.8 451.6,379.3 452.1,379.1 452.6,379.2 453.1,379.2 453.6,379.3 454.1,378.9 454.6,378.5 455.1,378.2 455.6,377.9 456.1,377.9 456.6,377.8 457.1,377.7 457.6,377.5 458.1,377.4 458.6,377.3 459.1,377.2 459.6,377.1 460.1,377.1 460.6,377.0 461.1,377.0 461.6,377.0 462.1,377.0 462.6,377.0 463.1,377.0 463.6,377.0 464.1,377.1 464.6,377.1 465.1,377.2 465.6,377.3 466.1,377.4 466.6,377.5 467.1,377.6 467.6,377.7 468.1,377.8 468.6,378.0 469.1,378.1 469.6,378.3 470.1,378.4 470.6,378.6 471.1,378.8 471.6,378.9 472.1,379.1 472.6,379.3 473.1,379.5 473.6,379.7 474.1,379.9 474.6,380.1 475.1,380.3 475.6,380.5 476.1,380.7 476.6,380.9 477.1,381.1 477.6,381.3 478.1,381.5 478.6,381.7 479.1,381.9 479.6,382.1 480.1,382.3 480.6,382.6 481.1,382.8 481.6,383.0 482.1,383.2 482.6,383.4 483.1,383.6 483.6,383.8 484.1,384.0 484.6,384.2 485.1,384.3 485.6,384.5 486.1,384.7 486.6,384.9 487.1,385.1 487.6,385.3 488.1,385.5 488.6,385.6 489.1,385.8 489.6,386.0 490.1,386.1 490.6,386.3 491.1,386.5 491.6,386.6 492.1,386.8 492.6,386.9 493.1,387.1 493.6,387.2 494.1,387.4 494.6,387.5 495.1,387.6 495.6,387.8 496.1,387.9 496.6,388.0 497.1,388.2 497.6,388.3 498.1,388.4 498.6,388.5 499.1,388.6 499.6,388.8 500.1,388.9 500.6,389.0 501.1,389.1 501.6,389.2 502.1,389.3 502.6,389.4 503.1,389.5 503.6,389.6 504.1,389.7 504.6,389.8 505.1,389.9 505.6,389.9 506.1,390.0 506.6,390.1 507.1,390.2 507.6,390.3 508.1,390.4 508.6,390.4 509.1,390.5 509.6,390.6 510.1,390.7 510.6,390.7 511.1,390.8 511.6,390.9 512.1,391.0 512.6,391.0 513.1,391.1 513.6,391.2 514.1,391.2 514.6,391.3 515.1,391.3 515.6,391.4 516.1,391.5 516.6,391.5 517.1,391.6 517.6,391.7 518.1,391.7 518.6,391.8 519.1,391.8 519.6,391.9 520.1,391.9 520.6,392.0 521.1,392.0 521.6,392.1 522.1,392.1 522.6,392.2 523.1,392.2 523.6,392.3 524.1,392.3 524.6,392.4 525.1,392.4 525.6,392.5 526.1,392.5 526.6,392.6 527.1,392.6 527.6,392.7 528.1,392.7 528.6,392.8 529.1,392.8 529.6,392.8 530.1,392.9 530.6,392.9 531.1,393.0 531.6,393.0 532.1,393.0 532.6,393.1 533.1,393.1 533.6,393.1 534.1,393.2 534.6,393.2 535.1,393.2 535.6,393.3 536.1,393.3 536.6,393.3 537.1,393.4 537.6,393.4 538.1,393.4 538.6,393.5 539.1,393.5 539.6,393.5 540.1,393.5 540.6,393.6 541.1,393.6 541.6,393.6 542.1,393.7 542.6,393.7 543.1,393.7 543.6,393.7 544.1,393.7 544.6,393.8 545.1,393.8 545.6,393.8 546.1,393.8 546.6,393.9 547.1,393.9 547.6,393.9 548.1,393.9 548.6,393.9 549.1,394.0 549.6,394.0 550.1,394.0 550.6,394.0 551.1,394.0 551.6,394.0 552.1,394.1 552.6,394.1 553.1,394.1 553.6,394.1 554.1,394.1 554.6,394.1 555.1,394.2 555.6,394.2 556.1,394.2 556.6,394.2 557.1,394.2 557.6,394.2 558.1,394.2 558.6,394.2 559.1,394.3 559.6,394.3 560.1,394.3 560.6,394.3 561.1,394.3 561.6,394.3 562.1,394.3 562.6,394.3 563.1,394.3 563.6,394.3 564.1,394.4 564.6,394.4 565.1,394.4 565.6,394.4 566.1,394.4 566.6,394.4 567.1,394.4 567.6,394.4 568.1,394.4 568.6,394.4 569.1,394.4 569.6,394.4 570.1,394.4 570.6,394.4 571.1,394.5 571.6,394.5 572.1,394.5 572.6,394.5 573.1,394.5 573.6,394.5 574.1,394.5 574.6,394.5 575.1,394.5 575.6,394.5 576.1,394.5 576.6,394.5 577.1,394.5 577.6,394.5 578.1,394.5 578.6,394.5 579.1,394.5 579.6,394.5 580.1,394.5 580.6,394.5 581.1,394.5 581.6,394.5 582.1,394.6 582.6,394.6 583.1,394.6 583.6,394.6 584.1,394.6 584.6,394.6 585.1,394.6 585.6,394.6 586.1,394.6 586.6,394.6 587.1,394.6 587.6,394.6 588.1,394.6 588.6,394.6 589.1,394.6 589.6,394.6 590.1,394.6 590.6,394.6 591.1,394.6 591.6,394.6 592.1,394.6 592.6,394.6 593.1,394.6 593.6,394.6 594.1,394.6 594.6,394.7 595.1,394.7 595.6,394.7 596.1,394.7 596.6,394.7 597.1,394.7 597.6,394.7 598.1,394.7 598.6,394.7 599.1,394.7 599.6,394.7 600.1,394.7 600.6,394.7 601.1,394.7 601.6,394.7 602.1,394.7 602.6,394.8 603.1,394.8 603.6,394.8 604.1,394.8 604.6,394.8 605.1,394.8 605.6,394.8 606.1,394.8 606.6,394.8 607.1,394.8 607.6,394.8 608.1,394.9 608.6,394.9 609.1,394.9 609.6,394.9 610.1,394.9 610.6,394.9 611.1,394.9 611.6,394.9 612.1,395.0 612.6,395.0 613.1,395.0 613.6,395.0 614.1,395.0 614.6,395.0 615.1,395.0 615.6,395.1 616.1,395.1 616.6,395.1 617.1,395.1 617.6,395.1 618.1,395.1 618.6,395.2 619.1,395.2 619.6,395.2 620.1,395.2 620.6,395.2 621.1,395.3 621.6,395.3 622.1,395.3 622.6,395.3 623.1,395.3 623.6,395.4 624.1,395.4 624.5,395.4" fill="none" stroke="#D95319" stroke-width="1.3" stroke-linejoin="round"/>
<polyline points="345.6,338.2 346.1,338.2 346.6,338.2 347.1,338.3 347.6,338.3 348.1,338.3 348.6,338.3 349.1,338.3 349.6,338.3 350.1,338.3 350.6,338.3 351.1,338.4 351.6,338.4 352.1,338.4 352.6,338.4 353.1,338.4 353.6,338.4 354.1,338.4 354.6,338.4 355.1,338.4 355.6,338.4 356.1,338.4 356.6,338.4 357.1,338.4 357.6,338.4 358.1,338.4 358.6,338.4 359.1,338.4 359.6,338.4 360.1,338.4 360.6,338.4 361.1,338.4 361.6,338.4 362.1,338.4 362.6,338.4 363.1,338.4 363.6,338.4 364.1,338.4 364.6,338.4 365.1,338.4 365.6,338.4 366.1,338.4 366.6,338.4 367.1,338.4 367.6,338.4 368.1,338.4 368.6,338.3 369.1,338.3 369.6,338.3 370.1,338.3 370.6,338.3 371.1,338.3 371.6,338.3 372.1,338.3 372.6,338.3 373.1,338.2 373.6,338.2 374.1,338.2 374.6,338.2 375.1,338.2 375.6,338.2 376.1,338.2 376.6,338.1 377.1,338.1 377.6,338.1 378.1,338.1 378.6,338.1 379.1,338.1 379.6,338.0 380.1,338.0 380.6,338.0 381.1,338.0 381.6,338.0 382.1,337.9 382.6,337.9 383.1,337.9 383.6,337.9 384.1,337.9 384.6,337.8 385.1,337.8 385.6,337.8 386.1,337.8 386.6,337.7 387.1,337.7 387.6,337.7 388.1,337.7 388.6,337.6 389.1,337.6 389.6,337.6 390.1,337.6 390.6,337.5 391.1,337.5 391.6,337.5 392.1,337.5 392.6,337.4 393.1,337.4 393.6,337.4 394.1,337.3 394.6,337.3 395.1,337.2 395.6,337.2 396.1,337.3 396.6,337.3 397.1,337.4 397.6,337.2 398.1,337.1 398.6,336.9 399.1,336.8 399.6,336.9 400.1,337.1 400.6,337.3 401.1,337.2 401.6,337.0 402.1,336.7 402.6,336.5 403.1,336.5 403.6,336.7 404.1,336.9 404.6,337.1 405.1,337.0 405.6,336.7 406.1,336.4 406.6,336.1 407.1,336.2 407.6,336.5 408.1,336.7 408.6,337.0 409.1,336.7 409.6,336.4 410.1,336.0 410.6,335.7 411.1,336.0 411.6,336.3 412.1,336.5 412.6,336.8 413.1,336.4 413.6,336.0 414.1,335.7 414.6,335.4 415.1,335.7 415.6,336.0 416.1,336.3 416.6,336.5 417.1,336.1 417.6,335.7 418.1,335.3 418.6,335.2 419.1,335.5 419.6,335.8 420.1,336.1 420.6,336.1 421.1,335.7 421.6,335.3 422.1,334.9 422.6,335.0 423.1,335.3 423.6,335.6 424.1,335.9 424.6,335.7 425.1,335.4 425.6,335.0 426.1,334.6 426.6,334.7 427.1,335.1 427.6,335.4 428.1,335.7 428.6,335.4 429.1,335.0 429.6,334.6 430.1,334.2 430.6,334.4 431.1,334.7 431.6,335.0 432.1,335.2 432.6,334.8 433.1,334.4 433.6,334.0 434.1,333.7 434.6,333.9 435.1,334.1 435.6,334.3 436.1,334.3 436.6,333.9 437.1,333.4 437.6,333.0 438.1,332.8 438.6,332.9 439.1,333.1 439.6,333.2 440.1,333.0 440.6,332.5 441.1,332.0 441.6,331.5 442.1,331.3 442.6,331.3 443.1,331.3 443.6,331.2 444.1,330.7 444.6,330.2 445.1,329.5 445.6,328.9 446.1,328.6 446.6,328.4 447.1,328.0 447.6,327.7 448.1,326.9 448.6,326.2 449.1,325.4 449.6,324.6 450.1,324.0 450.6,323.3 451.1,322.6 451.6,321.6 452.1,320.3 452.6,318.9 453.1,317.1 453.5,315.6 454.3,310.0 455.2,297.8 455.8,282.6 456.7,305.4 457.7,332.8 458.1,349.5 458.9,332.8 460.4,327.4 461.5,327.0 461.6,326.9 462.1,326.0 462.6,324.9 463.1,323.8 463.6,322.8 464.1,322.0 464.6,321.4 465.1,321.0 465.6,320.8 466.1,320.7 466.6,320.6 467.1,320.7 467.6,320.8 468.1,320.9 468.6,321.0 469.1,321.1 469.6,321.2 470.1,321.2 470.6,321.4 471.1,321.5 471.6,321.8 472.1,322.0 472.6,322.1 473.1,322.1 473.6,322.2 474.1,322.4 474.6,322.8 475.1,323.3 475.6,323.8 476.1,324.1 476.6,324.2 477.1,324.3 477.6,324.4 478.1,324.7 478.6,325.3 479.1,325.9 479.6,326.5 480.1,326.7 480.6,326.8 481.1,326.8 481.6,326.8 482.1,327.2 482.6,327.8 483.1,328.4 483.6,328.9 484.1,329.0 484.6,328.9 485.1,328.8 485.6,328.8 486.1,329.3 486.6,329.8 487.1,330.4 487.6,330.8 488.1,330.7 488.6,330.6 489.1,330.4 489.6,330.4 490.1,330.9 490.6,331.4 491.1,331.9 491.6,332.2 492.1,332.0 492.6,331.8 493.1,331.6 493.6,331.6 494.1,332.1 494.6,332.6 495.1,333.1 495.6,333.2 496.1,332.9 496.6,332.7 497.1,332.4 497.6,332.5 498.1,333.0 498.6,333.4 499.1,333.9 499.6,333.8 500.1,333.5 500.6,333.2 501.1,332.9 501.6,333.2 502.1,333.6 502.6,334.0 503.1,334.4 503.6,334.1 504.1,333.8 504.6,333.5 505.1,333.2 505.6,333.6 506.1,334.0 506.6,334.3 507.1,334.6 507.6,334.3 508.1,334.0 508.6,333.7 509.1,333.5 509.6,333.9 510.1,334.2 510.6,334.5 511.1,334.7 511.6,334.4 512.1,334.1 512.6,333.8 513.1,333.8 513.6,334.1 514.1,334.3 514.6,334.6 515.1,334.6 515.6,334.4 516.1,334.1 516.6,333.9 517.1,334.0 517.6,334.2 518.1,334.4 518.6,334.7 519.1,334.6 519.6,334.4 520.1,334.2 520.6,334.1 521.1,334.2 521.6,334.4 522.1,334.6 522.6,334.7 523.1,334.6 523.6,334.5 524.1,334.4 524.6,334.4 525.1,334.6 525.6,334.6 526.1,334.6 526.6,334.7 527.1,334.7 527.6,334.7 528.1,334.8 528.6,334.8 529.1,334.8 529.6,334.8 530.1,334.9 530.6,334.9 531.1,334.9 531.6,335.0 532.1,335.0 532.6,335.0 533.1,335.1 533.6,335.1 534.1,335.1 534.6,335.2 535.1,335.2 535.6,335.2 536.1,335.3 536.6,335.3 537.1,335.3 537.6,335.4 538.1,335.4 538.6,335.4 539.1,335.5 539.6,335.5 540.1,335.5 540.6,335.5 541.1,335.6 541.6,335.6 542.1,335.6 542.6,335.7 543.1,335.7 543.6,335.7 544.1,335.7 544.6,335.8 545.1,335.8 545.6,335.8 546.1,335.8 546.6,335.8 547.1,335.9 547.6,335.9 548.1,335.9 548.6,335.9 549.1,336.0 549.6,336.0 550.1,336.0 550.6,336.0 551.1,336.0 551.6,336.0 552.1,336.1 552.6,336.1 553.1,336.1 553.6,336.1 554.1,336.1 554.6,336.1 555.1,336.1 555.6,336.2 556.1,336.2 556.6,336.2 557.1,336.2 557.6,336.2 558.1,336.2 558.6,336.2 559.1,336.2 559.6,336.3 560.1,336.3 560.6,336.3 561.1,336.3 561.6,336.3 562.1,336.3 562.6,336.3 563.1,336.3 563.6,336.3 564.1,336.3 564.6,336.3 565.1,336.4 565.6,336.4 566.1,336.4 566.6,336.4 567.1,336.4 567.6,336.4 568.1,336.4 568.6,336.4 569.1,336.4 569.6,336.4 570.1,336.4 570.6,336.4 571.1,336.4 571.6,336.4 572.1,336.4 572.6,336.4 573.1,336.4 573.6,336.4 574.1,336.4 574.6,336.4 575.1,336.4 575.6,336.4 576.1,336.4 576.6,336.5 577.1,336.5 577.6,336.5 578.1,336.5 578.6,336.5 579.1,336.5 579.6,336.5 580.1,336.5 580.6,336.5 581.1,336.5 581.6,336.5 582.1,336.5 582.6,336.5 583.1,336.5 583.6,336.5 584.1,336.5 584.6,336.5 585.1,336.5 585.6,336.5 586.1,336.5 586.6,336.5 587.1,336.5 587.6,336.5 588.1,336.5 588.6,336.5 589.1,336.5 589.6,336.5 590.1,336.5 590.6,336.5 591.1,336.5 591.6,336.5 592.1,336.5 592.6,336.5 593.1,336.5 593.6,336.5 594.1,336.5 594.6,336.5 595.1,336.5 595.6,336.5 596.1,336.5 596.6,336.5 597.1,336.5 597.6,336.5 598.1,336.5 598.6,336.5 599.1,336.5 599.6,336.5 600.1,336.5 600.6,336.5 601.1,336.5 601.6,336.5 602.1,336.5 602.6,336.5 603.1,336.5 603.6,336.5 604.1,336.6 604.6,336.6 605.1,336.6 605.6,336.6 606.1,336.6 606.6,336.6 607.1,336.6 607.6,336.6 608.1,336.6 608.6,336.6 609.1,336.6 609.6,336.6 610.1,336.6 610.6,336.6 611.1,336.6 611.6,336.7 612.1,336.7 612.6,336.7 613.1,336.7 613.6,336.7 614.1,336.7 614.6,336.7 615.1,336.7 615.6,336.7 616.1,336.7 616.6,336.8 617.1,336.8 617.6,336.8 618.1,336.8 618.6,336.8 619.1,336.8 619.6,336.8 620.1,336.9 620.6,336.9 621.1,336.9 621.6,336.9 622.1,336.9 622.6,336.9 623.1,337.0 623.6,337.0 624.1,337.0 624.5,337.0" fill="none" stroke="#EDB120" stroke-width="1.2" stroke-linejoin="round"/>
<polyline points="345.6,406.0 346.1,406.0 346.6,406.0 347.1,406.0 347.6,406.0 348.1,406.0 348.6,406.0 349.1,406.0 349.6,406.1 350.1,406.1 350.6,406.1 351.1,406.1 351.6,406.1 352.1,406.1 352.6,406.1 353.1,406.1 353.6,406.1 354.1,406.1 354.6,406.1 355.1,406.1 355.6,406.1 356.1,406.0 356.6,406.0 357.1,406.0 357.6,406.0 358.1,406.0 358.6,406.0 359.1,406.0 359.6,406.0 360.1,406.0 360.6,406.0 361.1,406.0 361.6,406.0 362.1,406.0 362.6,406.0 363.1,406.0 363.6,406.0 364.1,406.0 364.6,405.9 365.1,405.9 365.6,405.9 366.1,405.9 366.6,405.9 367.1,405.9 367.6,405.9 368.1,405.9 368.6,405.9 369.1,405.8 369.6,405.8 370.1,405.8 370.6,405.8 371.1,405.8 371.6,405.8 372.1,405.7 372.6,405.7 373.1,405.7 373.6,405.7 374.1,405.7 374.6,405.7 375.1,405.6 375.6,405.6 376.1,405.6 376.6,405.6 377.1,405.6 377.6,405.5 378.1,405.5 378.6,405.5 379.1,405.5 379.6,405.4 380.1,405.4 380.6,405.4 381.1,405.4 381.6,405.3 382.1,405.3 382.6,405.3 383.1,405.3 383.6,405.2 384.1,405.2 384.6,405.2 385.1,405.1 385.6,405.1 386.1,405.1 386.6,405.0 387.1,405.0 387.6,405.0 388.1,404.9 388.6,404.9 389.1,404.9 389.6,404.8 390.1,404.8 390.6,404.8 391.1,404.7 391.6,404.7 392.1,404.7 392.6,404.6 393.1,404.6 393.6,404.5 394.1,404.5 394.6,404.5 395.1,404.4 395.6,404.4 396.1,404.3 396.6,404.3 397.1,404.2 397.6,404.2 398.1,404.2 398.6,404.1 399.1,404.1 399.6,404.0 400.1,404.0 400.6,403.9 401.1,403.9 401.6,403.8 402.1,403.8 402.6,403.7 403.1,403.7 403.6,403.6 404.1,403.5 404.6,403.5 405.1,403.4 405.6,403.4 406.1,403.3 406.6,403.3 407.1,403.2 407.6,403.1 408.1,403.1 408.6,403.0 409.1,402.9 409.6,402.8 410.1,402.8 410.6,402.7 411.1,402.6 411.6,402.5 412.1,402.4 412.6,402.3 413.1,402.2 413.6,402.2 414.1,402.1 414.6,402.0 415.1,401.8 415.6,401.7 416.1,401.6 416.6,401.5 417.1,401.4 417.6,401.3 418.1,401.2 418.6,401.0 419.1,400.9 419.6,400.8 420.1,400.6 420.6,400.5 421.1,400.3 421.6,400.2 422.1,400.0 422.6,399.9 423.1,399.7 423.6,399.5 424.1,399.4 424.6,399.2 425.1,399.0 425.6,398.8 426.1,398.6 426.6,398.4 427.1,398.2 427.6,398.0 428.1,397.8 428.6,397.6 429.1,397.3 429.6,397.1 430.1,396.9 430.6,396.6 431.1,396.4 431.6,396.1 432.1,395.9 432.6,395.6 433.1,395.3 433.6,395.1 434.1,394.8 434.6,394.5 435.1,394.2 435.6,393.9 436.1,393.6 436.6,393.3 437.1,393.0 437.6,392.6 438.1,392.3 438.6,392.0 439.1,391.7 439.6,391.3 440.1,391.0 440.6,390.7 441.1,390.3 441.6,390.0 442.1,389.7 442.6,389.3 443.1,389.0 443.6,388.6 444.1,388.3 444.6,388.0 445.1,387.6 445.6,387.3 446.1,387.0 446.6,386.7 447.1,386.4 447.6,386.0 448.1,385.7 448.6,385.4 449.1,385.1 449.6,384.8 450.1,384.6 450.6,384.3 451.1,384.0 451.6,383.7 452.1,383.5 452.6,383.2 453.1,383.0 453.6,382.8 454.1,382.6 454.6,382.3 455.1,382.1 455.6,382.0 456.1,381.8 456.6,381.6 457.1,381.5 457.6,381.3 458.1,381.2 458.6,381.1 459.1,381.0 459.6,380.9 460.1,380.8 460.6,380.7 461.1,380.6 461.6,380.5 462.1,380.5 462.6,380.4 463.1,380.4 463.6,380.4 464.1,380.4 464.6,380.3 465.1,380.3 465.6,380.3 466.1,380.3 466.6,380.4 467.1,380.4 467.6,380.6 468.1,380.6 468.6,380.5 469.1,380.4 469.6,380.4 470.1,380.6 470.6,381.0 471.1,381.5 471.6,381.3 472.1,381.0 472.6,380.6 473.1,380.8 473.6,381.4 474.1,382.2 474.6,382.7 475.1,382.3 475.6,381.8 476.1,381.2 476.6,381.8 477.1,382.8 477.6,383.9 478.1,384.4 478.6,383.7 479.1,382.9 479.6,382.1 480.1,383.4 480.6,384.8 481.0,384.7 482.9,388.8 484.1,399.3 486.0,355.5 489.1,391.9 490.3,384.5 491.5,391.3 493.0,392.8 493.1,393.4 493.6,394.9 494.1,394.5 494.6,393.7 495.1,392.9 495.6,392.9 496.1,394.3 496.6,395.6 497.1,396.8 497.6,396.0 498.1,395.3 498.6,394.5 499.1,394.9 499.6,396.1 500.1,397.2 500.6,398.0 501.1,397.2 501.6,396.5 502.1,395.8 502.6,396.5 503.1,397.5 503.6,398.5 504.1,398.8 504.6,398.1 505.1,397.4 505.6,396.7 506.1,397.6 506.6,398.5 507.1,399.4 507.6,399.3 508.1,398.7 508.6,398.0 509.1,397.7 509.6,398.5 510.1,399.3 510.6,400.0 511.1,399.7 511.6,399.1 512.1,398.6 512.6,398.5 513.1,399.2 513.6,399.9 514.1,400.5 514.6,400.0 515.1,399.5 515.6,399.0 516.1,399.2 516.6,399.8 517.1,400.3 517.6,400.7 518.1,400.2 518.6,399.8 519.1,399.4 519.6,399.8 520.1,400.3 520.6,400.7 521.1,400.9 521.6,400.5 522.1,400.2 522.6,399.8 523.1,400.3 523.6,400.7 524.1,401.1 524.6,401.1 525.1,400.8 525.6,400.5 526.1,400.4 526.6,400.7 527.1,401.1 527.6,401.4 528.1,401.2 528.6,401.0 529.1,400.8 529.6,400.8 530.1,401.1 530.6,401.4 531.1,401.6 531.6,401.4 532.1,401.3 532.6,401.1 533.1,401.2 533.6,401.4 534.1,401.6 534.6,401.8 535.1,401.6 535.6,401.5 536.1,401.4 536.6,401.5 537.1,401.7 537.6,401.8 538.1,401.9 538.6,401.8 539.1,401.7 539.6,401.7 540.1,401.8 540.6,401.9 541.1,402.0 541.6,402.0 542.1,402.0 542.6,402.0 543.1,402.0 543.6,402.1 544.1,402.1 544.6,402.2 545.1,402.2 545.6,402.2 546.1,402.2 546.6,402.2 547.1,402.2 547.6,402.3 548.1,402.3 548.6,402.3 549.1,402.3 549.6,402.4 550.1,402.4 550.6,402.4 551.1,402.4 551.6,402.4 552.1,402.5 552.6,402.5 553.1,402.5 553.6,402.5 554.1,402.5 554.6,402.6 555.1,402.6 555.6,402.6 556.1,402.6 556.6,402.6 557.1,402.6 557.6,402.7 558.1,402.7 558.6,402.7 559.1,402.7 559.6,402.7 560.1,402.7 560.6,402.8 561.1,402.8 561.6,402.8 562.1,402.8 562.6,402.8 563.1,402.8 563.6,402.8 564.1,402.8 564.6,402.9 565.1,402.9 565.6,402.9 566.1,402.9 566.6,402.9 567.1,402.9 567.6,402.9 568.1,402.9 568.6,402.9 569.1,403.0 569.6,403.0 570.1,403.0 570.6,403.0 571.1,403.0 571.6,403.0 572.1,403.0 572.6,403.0 573.1,403.0 573.6,403.0 574.1,403.1 574.6,403.1 575.1,403.1 575.6,403.1 576.1,403.1 576.6,403.1 577.1,403.1 577.6,403.1 578.1,403.1 578.6,403.1 579.1,403.1 579.6,403.1 580.1,403.1 580.6,403.2 581.1,403.2 581.6,403.2 582.1,403.2 582.6,403.2 583.1,403.2 583.6,403.2 584.1,403.2 584.6,403.2 585.1,403.2 585.6,403.2 586.1,403.2 586.6,403.2 587.1,403.2 587.6,403.3 588.1,403.3 588.6,403.3 589.1,403.3 589.6,403.3 590.1,403.3 590.6,403.3 591.1,403.3 591.6,403.3 592.1,403.3 592.6,403.3 593.1,403.3 593.6,403.3 594.1,403.4 594.6,403.4 595.1,403.4 595.6,403.4 596.1,403.4 596.6,403.4 597.1,403.4 597.6,403.4 598.1,403.4 598.6,403.4 599.1,403.4 599.6,403.4 600.1,403.5 600.6,403.5 601.1,403.5 601.6,403.5 602.1,403.5 602.6,403.5 603.1,403.5 603.6,403.5 604.1,403.5 604.6,403.5 605.1,403.6 605.6,403.6 606.1,403.6 606.6,403.6 607.1,403.6 607.6,403.6 608.1,403.6 608.6,403.6 609.1,403.7 609.6,403.7 610.1,403.7 610.6,403.7 611.1,403.7 611.6,403.7 612.1,403.7 612.6,403.7 613.1,403.8 613.6,403.8 614.1,403.8 614.6,403.8 615.1,403.8 615.6,403.8 616.1,403.9 616.6,403.9 617.1,403.9 617.6,403.9 618.1,403.9 618.6,403.9 619.1,404.0 619.6,404.0 620.1,404.0 620.6,404.0 621.1,404.0 621.6,404.1 622.1,404.1 622.6,404.1 623.1,404.1 623.6,404.1 624.1,404.2 624.5,404.2" fill="none" stroke="#B27DC9" stroke-width="1.0" stroke-linejoin="round"/>
<polyline points="345.6,451.2 346.1,451.2 346.6,451.1 347.1,451.0 347.6,451.0 348.1,450.9 348.6,450.9 349.1,450.8 349.6,450.8 350.1,450.7 350.6,450.7 351.1,450.7 351.6,450.6 352.1,450.6 352.6,450.6 353.1,450.5 353.6,450.5 354.1,450.5 354.6,450.4 355.1,450.4 355.6,450.4 356.1,450.4 356.6,450.3 357.1,450.3 357.6,450.3 358.1,450.3 358.6,450.3 359.1,450.2 359.6,450.2 360.1,450.2 360.6,450.2 361.1,450.2 361.6,450.2 362.1,450.2 362.6,450.2 363.1,450.1 363.6,450.1 364.1,450.1 364.6,450.1 365.1,450.1 365.6,450.1 366.1,450.1 366.6,450.1 367.1,450.1 367.6,450.1 368.1,450.1 368.6,450.1 369.1,450.1 369.6,450.1 370.1,450.1 370.6,450.1 371.1,450.1 371.6,450.1 372.1,450.1 372.6,450.1 373.1,450.1 373.6,450.1 374.1,450.1 374.6,450.1 375.1,450.1 375.6,450.0 376.1,450.0 376.6,450.0 377.1,450.0 377.6,450.0 378.1,450.0 378.6,450.0 379.1,450.0 379.6,450.0 380.1,450.0 380.6,450.0 381.1,450.0 381.6,449.9 382.1,449.9 382.6,449.9 383.1,449.9 383.6,449.9 384.1,449.9 384.6,449.8 385.1,449.8 385.6,449.8 386.1,449.8 386.6,449.7 387.1,449.7 387.6,449.7 388.1,449.6 388.6,449.6 389.1,449.6 389.6,449.5 390.1,449.5 390.6,449.5 391.1,449.4 391.6,449.4 392.1,449.3 392.6,449.3 393.1,449.2 393.6,449.2 394.1,449.1 394.6,449.1 395.1,449.0 395.6,448.9 396.1,448.9 396.6,448.8 397.1,448.7 397.6,448.7 398.1,448.6 398.6,448.5 399.1,448.4 399.6,448.3 400.1,448.3 400.6,448.2 401.1,448.1 401.6,448.0 402.1,447.9 402.6,447.8 403.1,447.7 403.6,447.6 404.1,447.5 404.6,447.4 405.1,447.2 405.6,447.1 406.1,447.0 406.6,446.9 407.1,446.7 407.6,446.6 408.1,446.5 408.6,446.3 409.1,446.2 409.6,446.0 410.1,445.9 410.6,445.7 411.1,445.6 411.6,445.4 412.1,445.2 412.6,445.1 413.1,444.9 413.6,444.7 414.1,444.5 414.6,444.3 415.1,444.1 415.6,443.9 416.1,443.7 416.6,443.5 417.1,443.3 417.6,443.1 418.1,442.9 418.6,442.6 419.1,442.4 419.6,442.2 420.1,441.9 420.6,441.7 421.1,441.5 421.6,441.2 422.1,440.9 422.6,440.7 423.1,440.4 423.6,440.1 424.1,439.9 424.6,439.6 425.1,439.3 425.6,439.0 426.1,438.7 426.6,438.4 427.1,438.1 427.6,437.8 428.1,437.4 428.6,437.1 429.1,436.8 429.6,436.4 430.1,436.1 430.6,435.7 431.1,435.4 431.6,435.0 432.1,434.7 432.6,434.3 433.1,433.9 433.6,433.5 434.1,433.2 434.6,432.8 435.1,432.4 435.6,432.0 436.1,431.6 436.6,431.2 437.1,430.8 437.6,430.4 438.1,430.0 438.6,429.6 439.1,429.1 439.6,428.7 440.1,428.3 440.6,427.9 441.1,427.5 441.6,427.0 442.1,426.6 442.6,426.2 443.1,425.8 443.6,425.3 444.1,424.9 444.6,424.5 445.1,424.0 445.6,423.6 446.1,423.1 446.6,422.7 447.1,422.3 447.6,421.8 448.1,421.4 448.6,421.0 449.1,420.5 449.6,420.1 450.1,419.7 450.6,419.2 451.1,418.8 451.6,418.4 452.1,418.0 452.6,417.6 453.1,417.2 453.6,416.8 454.1,416.5 454.6,416.1 455.1,415.8 455.6,415.6 456.1,415.3 456.6,415.1 457.1,414.9 457.6,414.7 458.1,414.5 458.6,414.4 459.1,414.3 459.6,414.2 460.1,414.1 460.6,414.1 461.1,414.1 461.6,414.1 462.1,414.1 462.6,414.2 463.1,414.2 463.6,414.4 464.1,414.5 464.6,414.6 465.1,414.8 465.6,415.0 466.1,415.3 466.6,415.5 467.1,415.8 467.6,416.1 468.1,416.4 468.6,416.7 469.1,417.0 469.6,417.4 470.1,417.7 470.6,418.1 471.1,418.5 471.6,418.9 472.1,419.3 472.6,419.6 473.1,420.0 473.6,420.4 474.1,420.8 474.6,421.2 475.1,421.6 475.6,422.0 476.1,422.3 476.6,422.7 477.1,423.1 477.6,423.4 478.1,423.8 478.6,424.1 479.1,424.5 479.6,424.8 480.1,425.1 480.6,425.5 481.1,425.8 481.6,426.1 482.1,426.4 482.6,426.7 483.1,427.0 483.6,427.3 484.1,427.6 484.6,427.9 485.1,428.1 485.6,428.4 486.1,428.6 486.6,428.9 487.1,429.1 487.6,429.4 488.1,429.6 488.6,429.8 489.1,430.0 489.6,430.2 490.1,430.4 490.6,430.6 491.1,430.8 491.6,431.0 492.1,431.2 492.6,431.3 493.1,431.5 493.6,431.7 494.1,431.8 494.6,432.0 495.1,432.1 495.6,432.3 496.1,432.4 496.6,432.6 497.1,432.7 497.6,432.8 498.1,433.0 498.6,433.1 499.1,433.2 499.6,433.4 500.1,433.5 500.6,433.6 501.1,433.8 501.6,433.9 502.1,434.0 502.6,434.2 503.1,434.3 503.6,434.5 504.1,434.6 504.6,434.8 505.0,434.9 506.5,435.5 508.0,437.8 509.5,436.5 511.0,439.5 512.0,438.5 513.8,459.9 518.0,426.7 519.5,436.0 520.5,433.5 521.5,439.2 523.0,438.5 524.0,440.7 524.1,440.7 524.6,440.8 525.1,441.0 525.6,441.1 526.1,441.2 526.6,441.3 527.1,441.5 527.6,441.6 528.1,441.7 528.6,441.8 529.1,441.9 529.6,442.0 530.1,442.1 530.6,442.3 531.1,442.4 531.6,442.5 532.1,442.6 532.6,442.7 533.1,442.8 533.6,442.9 534.1,443.0 534.6,443.1 535.1,443.1 535.6,443.2 536.1,443.3 536.6,443.4 537.1,443.5 537.6,443.6 538.1,443.7 538.6,443.7 539.1,443.8 539.6,443.9 540.1,444.0 540.6,444.0 541.1,444.1 541.6,444.2 542.1,444.3 542.6,444.3 543.1,444.4 543.6,444.5 544.1,444.5 544.6,444.6 545.1,444.6 545.6,444.7 546.1,444.8 546.6,444.8 547.1,444.9 547.6,444.9 548.1,445.0 548.6,445.0 549.1,445.1 549.6,445.1 550.1,445.2 550.6,445.2 551.1,445.3 551.6,445.3 552.1,445.3 552.6,445.4 553.1,445.4 553.6,445.5 554.1,445.5 554.6,445.5 555.1,445.6 555.6,445.6 556.1,445.6 556.6,445.7 557.1,445.7 557.6,445.7 558.1,445.8 558.6,445.8 559.1,445.8 559.6,445.8 560.1,445.9 560.6,445.9 561.1,445.9 561.6,445.9 562.1,446.0 562.6,446.0 563.1,446.0 563.6,446.0 564.1,446.1 564.6,446.1 565.1,446.1 565.6,446.1 566.1,446.1 566.6,446.1 567.1,446.2 567.6,446.2 568.1,446.2 568.6,446.2 569.1,446.2 569.6,446.2 570.1,446.2 570.6,446.2 571.1,446.3 571.6,446.3 572.1,446.3 572.6,446.3 573.1,446.3 573.6,446.3 574.1,446.3 574.6,446.3 575.1,446.3 575.6,446.3 576.1,446.3 576.6,446.3 577.1,446.3 577.6,446.3 578.1,446.4 578.6,446.4 579.1,446.4 579.6,446.4 580.1,446.4 580.6,446.4 581.1,446.4 581.6,446.4 582.1,446.4 582.6,446.4 583.1,446.4 583.6,446.4 584.1,446.4 584.6,446.4 585.1,446.4 585.6,446.4 586.1,446.4 586.6,446.4 587.1,446.4 587.6,446.4 588.1,446.4 588.6,446.4 589.1,446.4 589.6,446.4 590.1,446.4 590.6,446.4 591.1,446.4 591.6,446.4 592.1,446.4 592.6,446.4 593.1,446.5 593.6,446.5 594.1,446.5 594.6,446.5 595.1,446.5 595.6,446.5 596.1,446.5 596.6,446.5 597.1,446.5 597.6,446.5 598.1,446.5 598.6,446.5 599.1,446.5 599.6,446.5 600.1,446.5 600.6,446.6 601.1,446.6 601.6,446.6 602.1,446.6 602.6,446.6 603.1,446.6 603.6,446.6 604.1,446.6 604.6,446.7 605.1,446.7 605.6,446.7 606.1,446.7 606.6,446.7 607.1,446.7 607.6,446.8 608.1,446.8 608.6,446.8 609.1,446.8 609.6,446.8 610.1,446.9 610.6,446.9 611.1,446.9 611.6,446.9 612.1,447.0 612.6,447.0 613.1,447.0 613.6,447.0 614.1,447.1 614.6,447.1 615.1,447.1 615.6,447.2 616.1,447.2 616.6,447.2 617.1,447.3 617.6,447.3 618.1,447.3 618.6,447.4 619.1,447.4 619.6,447.5 620.1,447.5 620.6,447.5 621.1,447.6 621.6,447.6 622.1,447.7 622.6,447.7 623.1,447.8 623.6,447.8 624.1,447.9 624.5,447.9" fill="none" stroke="#1E961E" stroke-width="1.3" stroke-linejoin="round" stroke-dasharray="3,2.6"/>
</g>
<rect x="577.4" y="270.3" width="42.30" height="56.70" fill="#fff" stroke="#8a8a8a" stroke-width="1"/>
<line x1="579.4" y1="276" x2="594.1" y2="276" stroke="#0072BD" stroke-width="1.35"/>
<text x="595.6" y="277.8" class="lg li">f<tspan dy="2.6" class="sb">b</tspan><tspan dy="-2.6" dx="0.3">=0.8f</tspan><tspan dy="2.6" class="sb">1</tspan></text>
<line x1="579.4" y1="287.7" x2="594.1" y2="287.7" stroke="#D95319" stroke-width="1.35"/>
<text x="595.6" y="289.5" class="lg li">f<tspan dy="2.6" class="sb">b</tspan><tspan dy="-2.6" dx="0.3">=0.9f</tspan><tspan dy="2.6" class="sb">1</tspan></text>
<line x1="579.4" y1="299.3" x2="594.1" y2="299.3" stroke="#EDB120" stroke-width="1.35"/>
<text x="595.6" y="301.1" class="lg li">f<tspan dy="2.6" class="sb">b</tspan><tspan dy="-2.6" dx="0.3">=f</tspan><tspan dy="2.6" class="sb">1</tspan></text>
<line x1="579.4" y1="309.8" x2="594.1" y2="309.8" stroke="#B27DC9" stroke-width="1.0"/>
<text x="595.6" y="311.6" class="lg li">f<tspan dy="2.6" class="sb">b</tspan><tspan dy="-2.6" dx="0.3">=1.1f</tspan><tspan dy="2.6" class="sb">1</tspan></text>
<line x1="579.4" y1="321.6" x2="594.1" y2="321.6" stroke="#1E961E" stroke-width="1.5" stroke-dasharray="3,2.7"/>
<text x="595.6" y="323.4" class="lg li">f<tspan dy="2.6" class="sb">b</tspan><tspan dy="-2.6" dx="0.3">=1.2f</tspan><tspan dy="2.6" class="sb">1</tspan></text>
<text x="160.5" y="238.2" class="ax">f<tspan dy="3.2" class="axs">p</tspan><tspan dy="-3.2"> (Hz)</tspan></text>
<text x="475" y="237.6" class="ax">f<tspan dy="3.2" class="axs">p</tspan><tspan dy="-3.2"> (Hz)</tspan></text>
<text x="160" y="502.2" class="ax">f<tspan dy="3.2" class="axs">p</tspan><tspan dy="-3.2"> (Hz)</tspan></text>
<text x="473.6" y="504.3" class="ax">f<tspan dy="3.2" class="axs">p</tspan><tspan dy="-3.2"> (Hz)</tspan></text>
<text transform="translate(7.2,131.3) rotate(-90)" class="ax ay">v<tspan dy="3.4" class="axs">r</tspan><tspan dy="-3.4">(L)</tspan><tspan dy="3.4" class="axs">RMS</tspan><tspan dy="-3.4"> (m)</tspan></text>
<text transform="translate(321.2,130) rotate(-90)" class="ax ay">v<tspan dy="3.4" class="axs">r</tspan><tspan dy="-3.4">(L)</tspan><tspan dy="3.4" class="axs">RMS</tspan><tspan dy="-3.4"> (m)</tspan></text>
<text transform="translate(4.6,394.6) rotate(-90)" class="ax ay">v<tspan dy="3.4" class="axs">r</tspan><tspan dy="-3.4">(L)</tspan><tspan dy="3.4" class="axs">RMS</tspan><tspan dy="-3.4"> (m)</tspan></text>
<text transform="translate(321.6,394.8) rotate(-90)" class="ax ay">v<tspan dy="3.4" class="axs">r</tspan><tspan dy="-3.4">(L)</tspan><tspan dy="3.4" class="axs">RMS</tspan><tspan dy="-3.4"> (m)</tspan></text>
<text x="170.5" y="258.1" text-anchor="middle" class="pl">(a)</text>
<text x="484.8" y="258.6" text-anchor="middle" class="pl">(b)</text>
<text x="172.5" y="522.2" text-anchor="middle" class="pl">(c)</text>
<text x="486" y="522.8" text-anchor="middle" class="pl">(d)</text>
</svg>
</body></html>
